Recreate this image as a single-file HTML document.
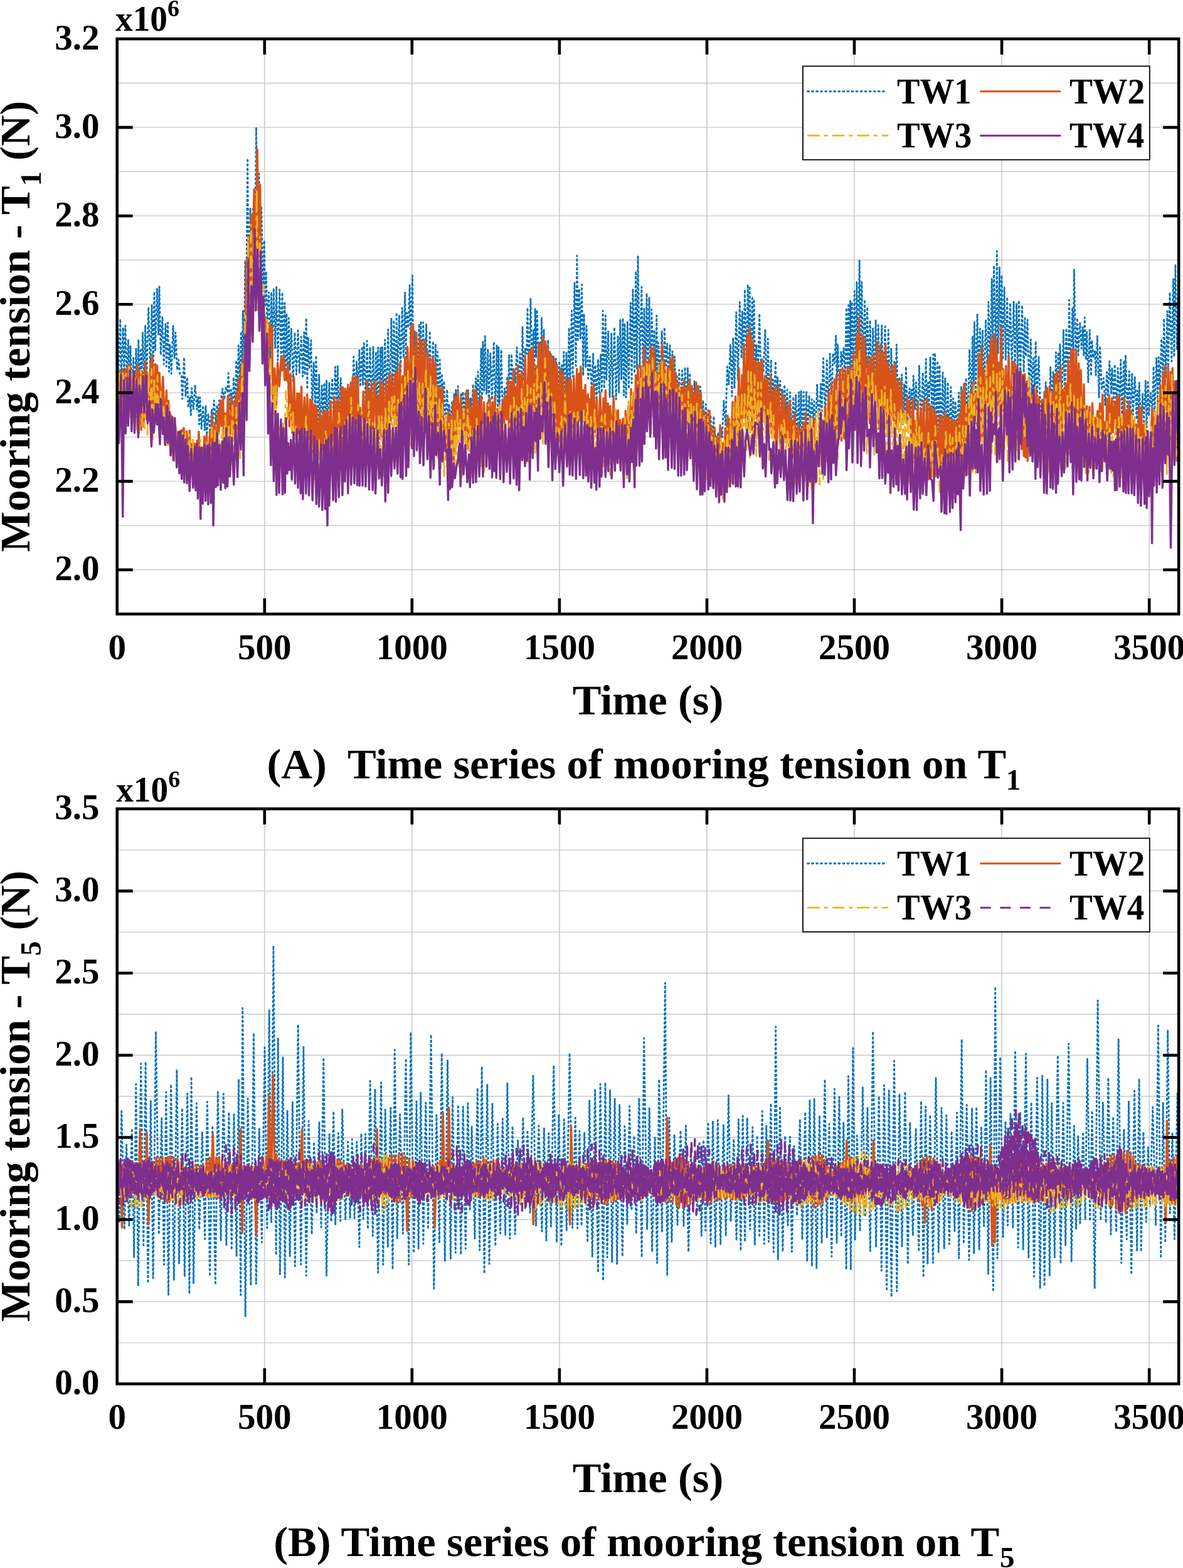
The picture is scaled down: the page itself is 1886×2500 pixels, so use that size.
<!DOCTYPE html>
<html><head><meta charset="utf-8"><title>Mooring tension time series</title>
<style>html,body{margin:0;padding:0;background:#fff;width:1886px;height:2500px;overflow:hidden}svg{display:block}text{font-family:'Liberation Serif',serif;font-weight:bold}</style>
</head><body>
<svg width="1886" height="2500" viewBox="0 0 1886 2500" style="font-family:'Liberation Serif',serif;font-weight:bold">
<rect width="1886" height="2500" fill="#fff"/>
<path d="M421.8,62.0V979.0M656.8,62.0V979.0M891.9,62.0V979.0M1127.0,62.0V979.0M1362.0,62.0V979.0M1597.1,62.0V979.0M1832.2,62.0V979.0" stroke="#d0d0d0" stroke-width="1.8" fill="none"/>
<path d="M186.7,908.5H1879.2M186.7,837.9H1879.2M186.7,767.4H1879.2M186.7,696.8H1879.2M186.7,626.3H1879.2M186.7,555.8H1879.2M186.7,485.2H1879.2M186.7,414.7H1879.2M186.7,344.2H1879.2M186.7,273.6H1879.2M186.7,203.1H1879.2M186.7,132.5H1879.2" stroke="#c8c8c8" stroke-width="1.3" fill="none"/>
<path d="M186.7,515.8L188.8,595.2 191.7,508.7 193.2,613.9 196.1,522.2 197.9,596.5 199.8,519.1 202.5,616.2 204.4,541.4 206.6,618.2 207.9,550.7 210.4,628.1 212.6,570.7 214.4,635.0 217.0,555.6 218.8,633.3 220.8,541.4 222.2,630.0 224.2,558.5 225.7,617.6 227.4,530.3 229.9,610.8 231.6,518.9 233.7,601.0 236.7,489.9 239.6,592.1 242.1,485.7 244.3,585.7 246.0,465.1 247.5,558.6 250.4,460.2 252.6,533.9 254.0,457.0 256.3,566.0 258.9,505.1 261.2,580.8 264.0,515.6 265.3,584.2 267.5,514.4 269.5,592.8 270.8,548.9 273.2,595.7 275.9,519.2 278.2,571.6 279.8,530.1 282.5,589.9 284.7,573.6 286.8,598.2 289.3,599.4 290.8,636.2 293.5,570.0 295.9,631.9 298.5,601.5 300.1,649.7 302.7,633.3 304.3,661.9 305.6,618.9 308.3,652.9 311.1,613.8 313.9,653.0 315.9,632.8 317.6,676.5 318.8,633.6 321.2,684.0 323.7,646.6 326.4,686.4 328.1,647.1 329.7,693.9 332.0,659.5 334.7,685.5 337.6,652.4 339.1,681.4 341.2,638.6 344.0,675.9 345.9,645.7 348.2,664.8 349.4,638.4 351.8,642.2 354.7,619.7 357.4,637.3 360.2,616.8 362.6,625.8 364.2,595.0 366.8,653.8 368.4,621.6 371.1,652.6 372.4,601.5 375.1,651.1 376.6,574.6 378.4,642.4 380.2,550.7 382.7,611.6 384.2,528.8 386.1,587.0 387.3,495.4 389.0,570.3 390.9,415.5 392.3,510.7 394.7,252.5 396.5,474.6 399.1,331.4 401.4,440.7 403.4,330.2 406.2,422.3 408.5,203.1 411.2,403.5 413.0,276.9 415.2,424.6 416.7,328.9 419.7,464.9 421.3,383.5 423.0,489.8 424.3,432.8 426.0,517.9 428.6,466.1 431.0,573.9 432.5,465.8 434.3,557.9 436.3,459.7 438.7,555.6 440.7,456.8 443.0,574.2 445.7,461.9 448.2,572.3 450.0,466.3 452.1,588.7 453.9,483.2 455.3,589.3 456.9,499.8 458.6,603.6 460.4,507.2 462.1,590.1 464.4,523.9 467.3,609.7 469.9,530.4 472.5,597.3 475.1,527.0 477.4,594.9 480.2,537.1 482.7,600.3 484.8,530.0 486.1,598.0 488.2,507.2 489.8,620.6 491.2,537.3 493.3,588.4 495.9,542.4 497.7,655.7 500.2,577.7 502.4,647.2 503.9,567.0 506.8,683.1 508.7,596.7 510.4,685.2 513.2,614.5 514.6,664.4 517.1,610.4 518.6,674.1 520.6,606.0 522.2,687.1 524.9,610.0 526.8,668.9 529.7,603.0 532.1,669.5 534.5,584.9 536.7,652.3 538.4,583.6 540.3,661.4 543.2,601.8 544.8,669.3 547.8,631.6 550.3,675.8 552.2,622.2 554.5,643.5 556.4,616.6 558.3,662.3 560.4,608.4 561.6,660.9 563.7,568.7 566.7,652.3 568.4,576.0 570.9,617.9 572.9,558.2 574.5,616.6 577.3,552.7 578.6,614.6 580.3,547.3 583.3,648.2 585.0,543.5 587.7,648.5 590.0,553.8 592.7,656.1 595.0,552.0 596.8,658.5 599.4,561.0 600.7,647.5 602.7,554.1 604.5,651.7 606.6,554.2 608.0,653.8 609.6,553.2 611.8,652.7 613.7,541.7 616.4,649.3 618.6,525.5 621.4,641.0 623.9,507.2 626.2,629.3 627.9,510.4 630.5,624.4 632.2,498.4 633.5,605.4 636.4,502.2 638.6,594.6 641.2,491.1 643.4,570.5 645.7,466.0 646.9,570.0 648.5,498.8 650.9,522.8 653.1,454.6 654.6,558.7 657.5,439.4 659.0,595.8 661.1,527.4 662.6,574.0 665.0,544.5 666.7,600.9 668.2,516.2 669.5,608.7 671.0,512.0 672.5,624.1 674.7,513.9 676.7,629.1 679.6,516.7 682.5,635.9 685.2,528.0 687.6,648.8 690.3,544.0 693.2,651.4 694.4,548.4 695.9,659.1 697.7,560.9 699.1,662.6 701.3,573.7 703.0,664.0 704.7,595.7 706.4,675.4 707.8,607.5 710.3,677.5 712.7,621.0 715.0,672.0 716.2,644.2 718.2,676.5 720.7,639.0 722.1,662.3 724.0,627.9 725.3,674.6 726.6,621.8 728.2,675.5 730.1,615.9 732.2,679.5 735.0,626.2 736.7,682.1 738.0,624.7 740.7,666.8 742.0,625.4 743.3,679.0 746.3,622.0 748.8,687.2 750.6,635.0 752.1,665.1 754.0,612.5 755.8,661.7 758.6,602.9 760.5,643.8 761.9,592.7 764.7,651.1 767.1,555.6 768.5,638.2 769.9,544.7 771.9,622.7 773.3,536.0 775.6,628.0 777.9,556.6 779.2,649.0 781.8,562.4 784.4,637.7 787.3,544.9 789.7,652.1 792.1,549.7 793.6,656.9 794.9,553.4 796.2,652.1 799.1,557.8 801.5,678.6 804.4,619.2 806.2,639.2 808.8,600.0 810.1,632.1 811.6,565.1 813.3,669.9 815.5,564.6 817.7,615.2 819.8,588.0 821.8,610.9 824.0,553.8 826.9,615.5 829.0,564.0 831.7,603.3 833.0,520.4 834.9,607.0 837.1,556.0 839.4,564.1 841.0,490.7 843.0,614.6 845.9,475.7 848.2,587.1 850.5,526.2 851.8,592.1 853.1,492.0 854.7,570.0 856.1,494.0 859.1,600.0 860.3,544.1 862.2,581.9 863.5,505.8 865.8,623.2 867.1,525.7 868.4,601.2 869.8,546.8 871.5,621.0 873.7,542.1 876.3,639.4 878.0,564.0 879.7,621.8 882.4,567.7 885.0,651.5 886.4,572.0 889.0,660.6 891.7,575.7 893.3,647.1 895.6,582.2 897.1,643.0 898.8,561.1 900.9,641.1 903.0,561.6 905.1,629.0 907.2,522.6 908.8,613.7 911.4,495.7 913.1,600.6 916.0,450.6 918.1,583.4 919.9,407.6 921.4,541.9 923.4,460.6 925.3,539.8 927.6,453.8 929.7,599.1 931.0,500.4 933.7,585.7 935.0,519.7 937.7,603.6 940.3,568.6 943.2,622.0 945.6,564.0 947.1,639.0 949.1,582.0 951.1,641.1 953.4,572.6 955.3,625.2 957.7,564.7 959.3,626.2 961.1,495.4 963.3,619.4 965.3,503.2 966.7,606.3 969.6,528.2 972.1,633.7 974.8,531.3 976.6,633.3 979.5,521.8 982.2,636.8 985.1,536.3 986.7,625.6 988.8,509.9 990.7,605.3 993.0,507.6 994.6,630.5 996.0,515.6 998.0,633.6 1000.4,512.7 1002.3,619.8 1005.3,482.9 1007.2,610.8 1008.9,460.4 1011.6,595.1 1013.6,432.2 1015.3,588.3 1017.0,407.6 1020.0,586.6 1022.9,457.4 1025.2,598.7 1027.0,491.3 1029.4,585.2 1031.0,467.6 1032.8,591.9 1035.0,474.0 1036.9,611.7 1038.7,493.3 1041.7,578.4 1043.2,525.9 1045.5,593.9 1046.8,503.2 1048.1,612.6 1049.7,546.7 1052.7,603.3 1055.2,527.6 1058.0,633.1 1059.3,522.1 1061.7,585.8 1063.7,548.1 1065.6,602.1 1068.1,550.5 1069.8,630.3 1072.0,560.2 1073.6,627.8 1075.5,568.5 1077.7,647.6 1079.2,597.3 1080.9,648.3 1082.8,590.0 1084.9,661.2 1087.5,591.0 1089.9,671.2 1092.1,585.5 1094.9,672.8 1096.4,586.4 1097.8,676.1 1099.7,595.0 1101.2,658.7 1103.4,619.8 1105.6,686.8 1107.0,607.6 1109.5,661.0 1111.7,640.3 1113.7,690.7 1116.5,616.5 1119.3,692.9 1120.9,638.2 1122.4,698.9 1125.2,644.5 1126.7,684.8 1129.3,654.1 1131.0,709.2 1132.9,662.0 1135.1,708.1 1138.0,663.7 1139.2,713.2 1140.6,692.5 1143.1,705.6 1145.1,689.3 1146.8,703.6 1149.7,682.4 1151.4,697.4 1153.9,638.2 1156.8,677.7 1159.4,584.4 1161.9,613.2 1164.4,549.0 1167.0,631.8 1168.7,538.8 1171.0,619.3 1173.7,498.0 1176.5,606.1 1179.3,481.6 1182.1,571.2 1183.5,495.7 1185.4,584.8 1187.4,461.7 1190.2,587.9 1192.2,453.5 1193.8,561.1 1195.1,456.3 1196.8,577.1 1199.4,472.4 1200.6,601.6 1202.1,477.0 1203.9,608.8 1206.0,549.3 1207.9,615.5 1210.7,500.0 1212.3,571.0 1214.5,581.6 1217.1,592.8 1219.9,525.1 1222.7,644.4 1224.2,540.5 1226.8,651.1 1229.2,573.7 1231.2,658.0 1232.4,605.4 1233.9,645.1 1236.5,576.1 1237.8,665.3 1239.6,601.4 1241.2,635.1 1243.8,607.3 1245.6,671.3 1247.0,620.3 1248.8,667.1 1250.6,613.6 1253.1,661.5 1254.9,621.5 1257.3,690.6 1259.5,625.4 1262.3,693.8 1264.8,632.7 1266.8,693.7 1268.8,629.0 1270.9,707.5 1273.7,625.1 1275.1,697.0 1277.1,623.2 1279.2,713.0 1281.2,625.0 1283.5,694.7 1285.6,624.7 1287.5,685.7 1290.0,630.5 1291.8,685.4 1294.1,636.8 1296.6,669.9 1298.0,639.7 1299.8,693.9 1302.7,612.6 1305.6,674.4 1308.6,612.1 1309.9,662.4 1312.6,571.3 1315.5,671.6 1318.3,574.6 1320.8,661.6 1323.2,563.9 1325.7,646.3 1327.9,563.4 1330.5,579.3 1332.6,535.0 1334.3,609.2 1335.6,549.5 1338.5,632.7 1341.0,560.5 1342.5,580.7 1345.2,554.5 1347.0,616.6 1349.3,490.9 1351.1,599.9 1352.7,486.8 1354.2,603.7 1355.6,478.9 1356.9,593.9 1358.2,481.3 1359.6,594.3 1362.3,464.1 1364.4,596.7 1365.9,449.4 1368.0,567.7 1370.2,414.7 1372.3,571.9 1373.8,449.9 1375.8,582.5 1378.6,477.8 1380.5,585.6 1382.6,489.5 1385.5,609.0 1387.1,510.5 1389.6,615.0 1391.7,523.5 1394.3,620.8 1396.1,510.0 1398.3,624.9 1400.2,518.5 1402.9,624.5 1405.8,518.6 1408.1,631.5 1411.1,520.5 1413.6,633.0 1416.3,526.2 1419.1,647.3 1420.8,555.7 1423.8,636.4 1425.7,574.4 1427.8,627.6 1429.3,549.5 1432.0,654.4 1433.8,601.2 1436.2,646.0 1437.8,597.1 1439.6,676.5 1441.5,612.0 1443.2,665.8 1444.4,584.7 1447.0,671.2 1449.9,619.1 1451.5,673.2 1453.0,621.5 1454.8,656.3 1456.2,599.2 1458.6,652.8 1460.4,609.7 1462.6,682.0 1465.5,582.7 1468.2,687.5 1471.1,594.0 1474.0,656.2 1476.2,572.4 1478.3,682.7 1479.6,610.1 1481.0,655.5 1483.1,569.1 1485.9,656.1 1487.8,565.0 1489.0,685.7 1490.6,562.9 1493.2,692.4 1494.7,575.5 1496.2,695.4 1498.0,582.3 1500.2,698.4 1503.0,594.0 1504.5,705.4 1506.8,602.4 1509.0,712.2 1511.0,609.4 1513.2,707.1 1515.9,617.3 1517.5,703.3 1519.6,635.0 1521.0,699.5 1523.1,639.7 1525.7,690.9 1528.7,625.9 1530.8,693.5 1532.5,615.9 1534.7,695.3 1536.6,611.9 1538.0,676.5 1540.2,602.6 1542.8,675.7 1545.6,556.8 1548.6,648.5 1550.4,536.0 1552.1,639.4 1553.5,513.2 1555.5,628.1 1558.1,500.1 1559.7,600.9 1562.5,523.9 1564.9,600.4 1566.5,526.1 1568.8,621.3 1571.5,509.6 1574.4,598.5 1575.9,481.3 1578.6,585.8 1581.2,444.3 1582.8,574.1 1584.5,423.4 1587.5,558.2 1589.3,400.6 1591.0,563.8 1593.5,426.0 1595.0,565.0 1597.0,438.9 1598.9,573.3 1601.1,458.2 1603.3,574.2 1605.7,473.6 1607.7,583.8 1610.5,483.2 1613.2,585.0 1616.1,480.2 1618.1,591.6 1620.6,484.2 1622.5,597.0 1624.3,478.8 1626.6,602.1 1629.5,486.6 1632.2,593.8 1633.9,507.5 1635.5,568.5 1638.1,509.8 1640.6,627.6 1643.3,541.1 1644.8,628.1 1647.5,569.0 1649.5,616.5 1651.2,544.1 1653.0,641.7 1656.0,568.8 1658.9,661.6 1660.3,652.1 1662.0,643.7 1664.5,643.0 1665.8,669.4 1667.1,609.7 1668.3,673.2 1671.1,629.5 1672.9,664.7 1674.7,584.5 1677.3,653.7 1679.1,592.1 1681.6,646.6 1683.5,561.8 1685.2,640.6 1687.1,561.7 1688.6,660.0 1689.9,548.4 1692.7,644.6 1695.5,525.7 1697.5,640.0 1699.9,523.5 1702.7,615.6 1704.6,478.5 1707.1,609.8 1709.6,490.1 1711.0,586.6 1712.4,428.8 1715.0,572.9 1717.5,507.1 1719.0,566.4 1721.7,515.2 1724.3,555.7 1726.1,521.4 1727.9,567.5 1729.3,506.2 1731.3,573.7 1732.7,529.7 1734.9,610.0 1737.2,526.1 1739.5,599.4 1740.8,542.4 1743.1,570.4 1745.7,559.2 1747.1,598.5 1749.4,535.4 1752.1,634.0 1753.6,551.7 1756.5,621.5 1759.4,602.9 1761.9,646.9 1764.7,593.3 1766.4,630.2 1768.8,575.9 1771.6,628.6 1772.9,586.6 1775.6,640.9 1777.2,581.1 1779.9,652.5 1782.2,587.0 1784.9,648.0 1786.8,573.8 1788.8,660.5 1791.6,574.8 1793.0,654.1 1794.5,565.9 1797.4,659.0 1800.3,591.9 1801.7,669.7 1804.7,595.2 1806.3,661.2 1809.2,600.3 1812.0,668.8 1813.2,622.6 1814.4,687.4 1816.2,609.8 1819.1,684.2 1821.7,627.7 1823.6,675.3 1826.4,606.7 1828.1,681.3 1830.0,609.4 1831.5,663.1 1834.4,626.5 1837.1,657.3 1839.1,584.6 1840.8,657.1 1843.7,570.3 1845.6,640.1 1847.2,569.6 1849.2,623.2 1851.7,540.5 1854.3,601.7 1855.6,508.0 1858.6,602.3 1861.0,496.0 1862.3,588.5 1865.0,466.0 1867.9,576.2 1870.6,444.3 1871.9,569.0 1873.9,421.7 1876.2,557.9 1879.0,425.5 1879.2,556.7" fill="none" stroke="#0072BD" stroke-width="2.9" stroke-linecap="round" stroke-dasharray="2 5.05" stroke-linejoin="round"/>
<path d="M186.7,600.3L188.9,667.4 191.0,591.8 192.9,664.2 195.6,588.9 197.7,660.2 200.4,588.1 202.3,637.7 204.2,583.4 205.7,657.3 207.0,583.1 209.2,661.6 211.1,596.3 212.5,669.3 214.7,594.5 217.2,664.1 219.5,580.3 220.7,652.5 222.6,590.9 225.0,685.1 226.9,592.5 228.9,680.1 231.5,576.3 233.0,667.9 234.5,595.8 237.1,670.5 240.0,576.6 241.5,664.3 242.8,565.1 245.4,675.8 247.6,580.5 249.3,667.0 250.6,582.7 252.8,656.0 254.2,594.1 257.1,658.6 259.9,600.8 262.4,683.6 265.4,622.8 267.1,703.2 268.5,638.9 270.9,708.6 272.5,661.5 275.0,722.6 276.3,669.9 278.1,697.8 280.5,693.7 283.4,719.2 284.8,693.9 286.8,734.7 289.7,685.8 291.0,706.4 293.0,682.1 295.5,714.9 297.6,687.7 300.3,739.1 302.3,686.5 304.0,757.7 305.3,707.6 307.4,747.1 310.3,707.0 313.2,752.6 314.4,702.5 315.6,766.6 316.9,688.3 319.7,769.0 321.5,713.1 323.2,771.4 325.8,696.0 327.6,772.6 329.5,694.0 331.9,759.7 334.7,687.3 336.2,725.2 337.8,660.2 339.4,748.7 342.3,674.8 344.5,735.1 347.2,655.2 348.7,693.0 351.4,638.1 353.2,679.5 355.5,632.1 357.1,712.9 359.2,659.0 361.8,687.0 363.3,630.7 366.2,712.8 369.0,631.4 371.4,694.0 374.0,640.8 375.7,710.0 377.1,625.0 378.8,713.4 380.3,603.3 382.1,705.2 384.7,583.8 386.2,655.7 387.5,571.0 390.2,614.5 393.0,414.7 395.0,448.6 396.6,377.6 399.4,480.3 400.7,342.3 402.5,456.5 405.1,301.8 407.6,415.4 410.2,238.3 412.3,409.0 414.7,294.8 416.5,511.6 419.3,484.5 421.9,504.3 424.8,524.5 427.3,606.8 429.9,515.3 431.4,549.9 433.6,520.8 435.0,653.2 437.8,587.2 440.4,647.1 442.6,577.9 445.3,616.0 448.1,571.5 449.9,590.8 452.3,565.0 453.8,606.3 455.1,590.6 457.6,607.1 459.2,580.1 461.2,679.7 463.2,595.9 466.1,690.6 468.7,601.5 470.9,693.5 473.6,627.2 475.2,691.1 476.6,627.5 478.3,701.8 480.5,616.4 482.3,712.0 485.3,633.7 487.5,707.6 489.7,628.6 492.3,713.0 494.4,637.0 495.9,716.7 497.5,638.3 499.5,722.0 501.1,645.4 502.7,722.8 504.6,647.8 507.2,731.6 510.0,656.9 511.6,736.1 513.2,665.9 514.5,731.4 515.7,653.8 517.5,731.2 519.1,656.1 521.2,735.0 522.6,654.6 525.0,721.7 527.2,640.1 530.0,734.2 532.7,632.1 534.1,732.1 536.3,639.6 538.1,719.8 539.4,636.3 541.6,723.1 544.6,616.1 546.0,720.4 547.2,618.3 548.8,717.3 550.8,619.6 552.4,709.4 554.9,613.2 556.6,705.0 559.3,610.0 560.7,686.3 562.2,601.0 565.2,679.5 566.5,600.0 569.1,710.7 570.4,601.6 571.9,670.1 574.2,650.2 576.9,708.8 579.2,623.9 582.2,684.2 585.2,607.3 586.7,675.8 588.7,622.0 590.7,705.9 592.3,611.7 594.7,689.4 597.4,605.7 600.0,684.5 602.6,630.8 604.2,699.7 606.5,605.5 608.0,697.1 610.6,611.8 613.4,712.6 615.5,607.3 617.7,699.9 620.2,596.1 623.0,671.5 624.4,597.1 626.9,666.4 629.7,596.6 631.3,677.3 633.0,590.5 635.1,669.6 637.4,578.9 639.4,685.3 641.6,599.7 643.5,668.0 645.5,570.4 647.2,668.0 649.6,552.9 652.5,641.0 655.5,520.5 657.4,647.4 658.6,516.7 661.0,658.7 663.9,530.3 666.8,665.2 669.3,539.4 671.1,677.5 672.5,545.5 674.5,682.5 676.9,542.0 679.4,689.9 681.8,560.4 684.4,698.0 685.8,571.3 687.9,691.3 689.9,568.8 692.0,692.0 694.1,577.6 696.4,704.9 697.8,615.2 699.0,712.2 701.0,620.5 703.2,708.7 705.2,617.0 707.3,717.1 709.2,667.8 711.9,733.4 714.6,654.8 716.0,738.6 718.4,664.0 720.5,732.6 721.8,641.6 723.2,737.0 725.8,632.4 728.3,706.3 729.8,624.2 732.0,679.2 734.9,633.5 737.0,726.2 739.3,661.3 741.7,697.8 743.9,622.6 746.6,715.9 748.3,636.5 749.9,701.9 751.3,650.5 753.3,717.0 755.1,620.7 757.2,725.0 758.7,621.9 760.8,731.2 762.8,639.3 764.6,723.2 767.2,632.0 769.4,735.7 771.6,641.3 774.5,722.3 777.3,642.2 779.7,722.2 780.9,634.4 783.2,724.2 785.0,641.1 786.6,714.5 788.9,630.9 790.4,712.2 793.0,652.1 795.6,710.5 797.0,655.9 798.5,690.7 801.4,637.8 802.6,710.2 805.2,630.7 807.8,668.7 810.3,604.6 811.5,701.4 814.4,608.2 816.0,675.5 818.8,588.3 820.9,706.7 822.6,616.8 824.2,686.2 825.4,582.7 827.0,688.5 828.4,597.3 829.6,683.0 832.0,593.4 835.0,690.8 837.1,566.6 839.8,684.9 842.7,562.2 844.1,677.5 846.0,557.5 848.0,663.4 849.6,553.7 852.1,675.3 854.3,583.6 855.8,676.3 858.7,548.2 860.1,663.8 861.4,548.2 864.0,648.6 866.0,537.1 868.3,658.1 869.6,544.1 870.9,662.0 872.7,551.5 874.4,677.2 876.6,561.4 878.4,684.5 880.0,568.0 882.9,689.3 884.3,572.7 886.4,703.6 888.0,581.4 890.7,704.1 893.0,588.5 895.3,708.2 897.3,593.1 899.3,707.9 902.3,601.7 904.3,708.1 906.7,605.8 908.0,710.6 910.2,605.2 912.7,704.1 914.8,599.3 917.3,696.0 919.7,588.1 921.1,692.8 923.1,595.8 924.4,670.8 925.8,584.5 928.2,672.3 929.8,622.3 931.1,668.9 933.1,613.7 935.6,704.3 937.3,628.7 938.8,701.6 940.4,636.3 941.7,703.1 942.9,616.7 945.0,712.0 946.6,612.3 948.5,689.1 951.4,636.5 954.0,712.1 956.7,626.1 959.6,707.2 962.0,635.2 964.0,686.8 965.3,622.3 967.8,714.6 969.2,643.3 971.0,721.6 972.7,647.2 975.5,703.1 978.3,632.0 980.0,728.7 981.8,655.0 983.9,733.5 985.2,654.0 986.4,726.5 988.6,669.6 990.7,706.0 993.1,667.4 995.9,720.9 997.3,655.0 1000.1,733.7 1001.7,647.7 1004.6,732.5 1006.0,620.5 1008.0,713.3 1010.5,626.3 1012.0,721.9 1013.5,598.3 1015.1,719.6 1016.9,582.7 1019.7,708.1 1021.4,584.0 1023.8,697.6 1026.5,551.3 1027.7,647.5 1029.4,575.8 1032.3,661.7 1034.5,571.6 1036.0,651.6 1038.1,553.9 1040.0,603.4 1042.7,553.8 1045.4,655.2 1047.1,595.0 1050.1,653.7 1051.4,579.0 1054.2,626.3 1055.6,548.1 1057.8,613.1 1059.8,578.6 1062.4,662.4 1064.5,587.8 1066.2,657.0 1068.7,570.7 1070.6,647.2 1072.5,568.6 1075.2,654.9 1077.1,593.8 1079.2,664.0 1081.9,609.6 1084.6,662.7 1087.0,617.7 1089.5,690.0 1090.8,607.1 1093.0,684.7 1095.3,617.1 1096.7,676.2 1099.5,605.0 1102.0,693.5 1103.3,615.6 1104.8,709.4 1106.2,628.2 1107.6,701.1 1109.9,609.7 1111.3,718.7 1113.2,615.5 1114.9,724.8 1117.3,626.4 1119.8,717.6 1122.1,655.3 1124.4,744.3 1126.6,658.4 1129.2,753.8 1131.3,655.1 1132.9,756.7 1134.3,679.2 1136.5,753.1 1139.2,681.6 1141.7,765.4 1144.1,698.1 1146.7,747.3 1148.1,677.7 1150.8,786.0 1152.1,706.3 1154.3,755.3 1156.2,682.8 1157.7,773.4 1159.9,662.8 1161.3,751.1 1162.6,668.0 1165.1,746.5 1167.9,640.6 1169.9,716.0 1172.5,632.2 1175.4,724.7 1178.0,587.5 1179.9,699.7 1182.8,598.1 1184.5,666.8 1186.1,550.2 1188.5,671.7 1191.2,532.6 1192.9,681.9 1194.6,520.5 1195.9,655.2 1197.2,535.7 1199.0,685.9 1200.4,544.3 1201.6,681.1 1204.2,575.4 1207.0,669.6 1208.5,577.5 1210.3,678.3 1211.5,578.2 1213.5,669.0 1214.9,572.7 1217.1,669.8 1219.5,598.9 1222.0,698.2 1223.4,605.3 1226.0,696.5 1228.8,597.5 1230.4,691.1 1233.4,622.1 1235.2,700.4 1236.9,614.9 1238.3,717.4 1241.3,618.0 1244.3,717.7 1246.9,627.3 1248.6,723.0 1250.1,632.8 1252.8,704.5 1255.5,646.8 1257.9,711.4 1259.2,638.9 1260.5,717.6 1262.7,670.2 1264.0,729.4 1266.7,659.0 1269.6,725.1 1272.6,676.4 1275.3,752.4 1276.6,684.6 1278.0,732.9 1280.9,673.6 1283.1,757.6 1284.5,658.0 1285.7,757.7 1287.1,687.9 1289.9,747.1 1291.6,664.8 1294.2,729.9 1297.1,667.5 1298.9,729.4 1301.8,697.2 1304.6,723.9 1306.0,673.0 1307.4,740.8 1310.3,669.2 1313.0,732.8 1315.6,648.0 1318.0,734.7 1321.0,624.8 1322.9,721.0 1325.6,611.1 1328.2,719.0 1330.2,604.8 1331.9,712.9 1333.3,598.4 1336.2,709.6 1338.9,590.2 1341.4,702.4 1343.1,586.7 1345.8,699.2 1347.3,591.0 1349.7,695.2 1351.2,585.1 1353.2,684.7 1355.5,585.7 1358.0,686.5 1360.8,560.0 1363.7,685.5 1366.3,533.9 1367.6,683.1 1369.5,506.4 1372.0,659.6 1374.8,534.0 1376.0,669.0 1377.9,538.5 1380.8,662.0 1383.7,568.1 1386.5,675.0 1387.9,571.5 1389.7,652.2 1392.6,565.2 1395.4,664.4 1398.4,545.3 1400.8,683.5 1403.3,550.0 1405.0,681.0 1407.5,562.0 1409.1,685.4 1411.8,548.6 1414.1,675.0 1415.8,577.4 1417.3,671.2 1418.7,590.7 1420.2,677.5 1423.1,582.2 1424.9,670.5 1427.1,580.8 1428.6,684.4 1431.4,605.0 1434.4,671.9 1436.5,607.6 1439.4,660.5 1442.4,666.5 1444.8,674.0 1446.3,632.2 1448.6,660.5 1450.2,639.5 1453.0,715.2 1455.8,635.1 1457.3,737.1 1459.2,671.1 1461.6,718.3 1463.2,639.6 1465.9,732.2 1468.0,651.1 1470.4,745.5 1472.4,638.9 1475.1,758.7 1477.7,635.7 1480.4,764.1 1482.2,645.2 1484.1,761.5 1485.7,650.9 1488.5,742.3 1489.9,652.8 1491.8,759.2 1493.0,662.9 1495.4,758.0 1498.3,661.4 1500.5,762.4 1501.8,665.2 1503.6,753.6 1506.0,656.6 1507.5,761.8 1509.6,665.4 1511.4,763.1 1512.7,666.0 1515.3,752.5 1517.0,668.2 1518.6,758.4 1520.9,669.3 1522.9,739.1 1524.7,670.2 1526.1,741.3 1529.1,660.2 1531.4,748.4 1533.4,621.7 1535.6,736.4 1537.6,611.3 1540.2,711.2 1543.0,644.8 1544.7,731.7 1547.6,623.5 1549.4,670.5 1551.7,607.9 1554.6,674.9 1557.1,625.1 1558.3,696.0 1560.7,563.6 1563.4,701.7 1564.7,552.4 1566.3,695.8 1568.2,590.1 1570.1,667.0 1573.1,578.8 1574.4,642.0 1575.9,567.3 1578.3,674.7 1579.7,538.7 1582.0,671.2 1584.3,533.2 1586.5,641.5 1588.5,540.1 1590.5,646.1 1592.4,577.9 1594.3,643.0 1596.1,520.5 1597.9,654.7 1599.4,588.6 1601.6,680.0 1603.9,583.4 1606.1,690.3 1608.2,567.5 1610.8,689.3 1613.7,578.1 1615.0,688.9 1616.9,576.1 1619.0,710.3 1620.3,582.9 1622.1,709.5 1624.1,594.1 1625.4,708.3 1627.4,591.2 1628.7,716.1 1630.7,597.4 1632.2,727.0 1633.6,596.5 1634.9,729.3 1637.0,608.5 1638.3,735.1 1640.2,604.1 1641.5,720.0 1643.9,628.5 1646.3,718.6 1647.8,636.1 1649.6,720.4 1652.1,620.6 1653.6,735.9 1656.2,633.1 1658.6,745.8 1661.5,637.2 1663.8,757.7 1665.1,624.6 1667.0,756.0 1669.4,618.2 1671.5,729.4 1673.4,615.7 1675.0,740.9 1677.4,626.0 1678.9,731.2 1681.5,597.8 1683.2,695.2 1685.4,592.2 1688.3,718.2 1690.6,584.9 1693.3,688.9 1694.7,621.2 1696.8,666.7 1699.2,611.8 1700.7,688.8 1703.1,574.6 1705.5,698.7 1707.6,558.0 1710.2,686.5 1711.4,555.5 1714.3,709.9 1715.6,558.5 1718.2,713.1 1719.7,579.5 1720.9,720.1 1723.2,590.4 1725.4,726.8 1727.9,612.7 1730.7,730.6 1732.7,647.4 1734.8,710.4 1737.1,648.8 1738.9,730.4 1741.5,642.8 1744.1,709.5 1745.6,666.0 1748.1,710.4 1749.6,655.2 1751.3,683.2 1753.6,643.3 1755.6,699.4 1757.8,629.3 1759.4,720.1 1762.0,672.7 1763.4,705.3 1764.6,635.8 1766.2,695.8 1768.3,630.3 1771.0,691.7 1772.8,634.8 1774.2,689.2 1777.2,640.2 1779.6,692.1 1781.3,631.5 1782.9,735.0 1784.4,631.4 1785.8,729.1 1788.3,667.3 1789.7,734.8 1792.1,633.9 1794.0,706.7 1796.4,653.8 1798.2,737.7 1799.6,639.9 1800.8,702.3 1803.5,654.6 1806.2,686.3 1807.7,671.4 1809.4,699.3 1811.4,676.6 1814.3,736.7 1816.1,648.1 1818.3,694.5 1819.5,649.7 1820.9,725.0 1823.4,677.0 1825.5,749.6 1826.8,685.8 1829.3,740.5 1830.9,700.3 1833.7,743.2 1836.7,649.2 1839.6,726.1 1841.1,657.3 1843.4,718.9 1846.2,637.1 1848.5,734.9 1849.8,614.5 1851.5,741.4 1853.9,596.3 1855.8,730.6 1857.3,584.0 1859.5,738.6 1862.2,584.0 1864.7,734.5 1866.3,593.0 1867.9,709.9 1869.3,586.9 1871.0,700.5 1873.2,608.1 1876.1,734.6 1877.8,613.0 1879.2,712.3" fill="none" stroke="#D95319" stroke-width="3.4" stroke-linejoin="round"/>
<path d="M186.7,664.5L188.8,708.2 190.6,594.5 192.5,670.1 195.7,590.8 198.1,689.7 200.8,596.3 203.7,675.3 205.7,584.6 207.7,664.7 210.7,591.4 212.9,674.0 214.7,599.9 217.8,684.4 219.9,605.8 221.8,691.2 224.5,591.4 226.6,681.8 228.4,597.7 230.5,683.2 233.2,607.9 235.3,693.3 237.1,592.9 239.6,677.9 241.7,588.5 243.6,700.5 246.1,605.6 248.3,675.6 251.0,598.7 253.9,695.8 256.4,624.3 259.5,682.8 261.2,646.7 264.1,715.0 265.9,642.7 267.7,710.1 270.4,646.3 273.5,726.3 275.6,664.2 278.1,734.8 281.1,679.5 283.0,733.1 285.4,693.4 288.0,729.4 291.1,690.2 293.7,746.9 295.6,689.0 298.6,752.4 301.7,692.4 304.6,756.2 307.5,697.8 309.9,773.0 312.7,722.7 316.1,783.5 319.5,700.2 321.4,771.4 324.2,713.6 327.3,768.5 329.0,703.1 331.7,757.8 333.5,707.2 335.4,749.4 337.6,681.3 340.2,744.0 342.8,685.6 345.3,752.0 348.6,690.3 351.2,733.1 354.1,684.0 356.3,729.4 359.2,659.9 362.2,739.3 365.0,675.2 367.9,749.8 370.6,647.1 373.7,748.5 376.8,650.0 378.6,741.0 381.0,638.4 382.8,731.0 386.1,580.7 388.5,712.8 390.5,498.7 393.6,513.8 395.4,378.4 397.2,567.7 400.1,358.3 402.6,505.7 404.7,373.8 407.3,498.7 409.3,301.8 411.4,494.1 414.1,377.2 417.3,542.7 420.2,453.6 422.9,608.9 425.9,508.1 428.2,665.9 431.5,572.0 434.2,699.4 436.3,617.0 438.0,665.0 439.8,613.0 441.7,695.7 444.6,680.5 447.7,695.8 451.0,675.1 453.7,691.1 455.9,623.3 459.0,672.5 462.3,644.5 465.1,686.8 466.9,657.3 469.2,748.8 471.3,680.4 474.5,754.9 477.6,694.2 479.3,763.8 482.0,685.3 485.4,718.2 487.9,660.8 491.1,758.0 494.2,689.7 496.7,714.4 499.1,715.2 500.9,764.1 503.2,721.1 505.1,771.2 508.2,697.9 510.9,779.0 514.2,719.5 516.6,729.2 519.4,685.6 522.5,718.2 524.1,705.8 526.3,732.1 528.7,714.2 532.0,705.5 535.1,697.5 536.9,728.4 540.2,658.5 542.9,699.0 544.7,693.7 547.5,695.7 550.7,671.1 552.7,750.3 554.9,664.2 557.0,731.3 559.9,634.0 562.8,744.7 565.8,674.1 569.0,706.3 570.9,645.1 573.8,738.8 576.6,656.7 578.7,752.0 582.0,674.2 584.5,740.7 587.8,639.9 591.1,745.0 594.3,674.7 596.8,760.4 598.9,683.1 601.5,751.3 603.9,659.8 606.4,756.1 608.4,663.0 611.5,758.6 614.5,649.4 617.6,747.6 620.2,640.1 621.9,730.6 625.1,629.5 626.8,737.6 628.7,631.5 632.0,717.3 634.6,633.1 637.4,726.0 640.5,610.0 643.3,709.6 645.7,601.3 648.3,682.1 650.6,591.7 653.2,714.1 654.8,604.1 657.3,709.1 659.0,564.6 660.8,704.0 663.9,604.3 666.7,662.9 668.6,607.9 671.6,706.7 674.0,611.6 675.9,681.3 679.1,586.3 680.9,725.7 682.6,616.4 684.6,706.7 686.4,596.4 688.0,723.7 690.8,612.1 692.6,742.3 695.2,617.2 697.3,729.3 700.6,634.6 702.6,746.2 705.1,644.3 708.0,761.1 710.2,657.9 713.3,766.9 715.5,674.3 717.7,773.8 720.1,665.5 722.5,770.4 725.2,670.7 727.2,749.3 729.4,653.5 731.4,748.0 733.5,666.0 736.5,760.3 739.2,651.4 742.5,723.4 745.8,653.0 747.8,719.0 749.8,678.9 753.0,764.2 754.9,682.2 757.8,745.1 759.8,667.6 761.6,722.9 764.0,695.2 766.9,744.0 770.0,677.8 772.0,751.5 773.7,667.2 776.8,727.4 779.2,644.9 781.9,731.2 784.5,683.2 787.5,747.0 790.9,654.6 793.6,713.1 795.9,646.0 797.8,705.5 799.6,662.4 802.4,687.8 804.5,674.6 806.6,718.9 809.0,700.2 811.5,714.5 813.9,643.4 817.2,708.0 819.3,633.7 822.0,726.5 823.7,645.3 825.4,662.4 827.3,650.2 829.4,738.2 831.9,618.0 834.5,698.9 836.4,635.0 839.1,742.4 840.8,614.0 843.1,737.5 846.1,618.8 848.6,703.3 851.4,612.1 853.4,723.3 856.3,586.1 859.6,696.4 862.4,608.6 865.8,711.0 868.9,571.0 871.9,683.7 874.3,610.7 877.0,673.3 879.0,624.1 882.2,717.4 883.8,638.9 886.8,702.3 890.1,683.0 892.3,692.4 895.4,663.7 897.7,739.7 900.9,629.8 903.6,706.4 905.3,669.6 907.6,738.4 909.2,656.4 912.2,698.1 915.3,655.7 918.7,694.9 921.3,655.7 923.6,733.3 926.1,665.0 928.5,724.4 930.7,654.7 933.9,715.6 936.2,639.3 939.4,715.0 942.0,664.6 945.2,746.0 948.0,649.4 950.4,724.6 953.3,685.2 956.2,708.5 959.4,662.7 961.8,743.4 964.4,660.6 967.3,730.7 969.9,683.4 972.6,757.3 974.6,670.6 978.0,731.5 980.7,650.9 983.5,716.0 986.4,690.5 989.4,728.0 991.2,679.2 993.5,764.0 996.1,664.5 999.5,764.5 1002.1,637.9 1003.7,764.1 1007.0,631.1 1009.6,748.2 1011.3,621.3 1013.5,736.9 1016.9,608.6 1019.1,726.3 1021.7,601.3 1023.9,717.3 1026.6,585.6 1029.0,675.8 1031.2,575.6 1033.0,657.0 1035.1,578.6 1037.8,695.4 1040.3,571.1 1042.7,682.9 1045.4,593.7 1047.6,670.7 1050.2,582.1 1052.8,684.4 1055.7,574.7 1059.0,700.5 1061.0,585.6 1064.4,671.6 1067.8,589.7 1070.8,698.6 1073.7,625.7 1075.4,726.1 1078.4,620.7 1081.1,696.7 1083.2,616.8 1085.2,713.6 1087.4,629.9 1089.6,706.8 1091.9,640.3 1094.5,737.0 1097.5,624.1 1099.8,730.3 1101.5,644.7 1104.3,746.3 1105.9,648.3 1108.4,733.1 1111.1,639.1 1113.8,745.5 1116.9,651.4 1120.2,759.5 1122.4,663.6 1125.3,764.6 1128.5,668.4 1131.6,761.3 1134.6,691.6 1137.2,777.9 1140.2,698.5 1142.2,751.3 1144.7,716.7 1147.3,759.3 1149.2,696.7 1152.3,795.3 1154.7,701.6 1157.0,770.4 1159.7,682.9 1162.4,776.3 1164.6,670.4 1167.4,770.0 1169.6,649.4 1172.1,768.8 1173.8,639.8 1175.5,731.9 1177.2,629.6 1180.0,753.7 1182.5,625.2 1184.7,726.9 1187.0,627.5 1190.2,717.6 1193.1,592.1 1195.2,731.7 1197.4,589.4 1200.8,721.8 1203.1,597.7 1205.6,727.3 1208.5,609.7 1210.5,727.1 1213.3,609.7 1215.3,716.7 1218.4,647.1 1220.8,699.4 1224.1,653.5 1225.9,733.2 1228.4,638.0 1230.8,699.3 1233.0,662.2 1234.8,717.7 1236.5,727.2 1239.6,743.5 1241.5,714.7 1243.2,743.4 1245.8,677.4 1247.8,703.7 1250.0,666.7 1253.1,715.3 1255.8,683.6 1257.7,733.2 1259.5,699.5 1262.2,744.7 1265.3,678.1 1267.7,771.3 1270.5,699.3 1273.6,776.6 1275.5,694.5 1278.2,759.4 1281.6,687.6 1284.4,768.4 1287.3,674.7 1289.1,774.7 1291.7,667.5 1293.6,780.8 1296.5,678.5 1298.9,773.9 1300.6,662.0 1302.6,767.1 1304.9,654.4 1306.8,772.5 1309.0,655.4 1312.4,764.6 1314.4,662.0 1317.0,735.6 1318.6,651.8 1321.9,747.1 1325.1,628.9 1326.8,725.4 1328.7,674.3 1331.4,702.4 1333.2,622.6 1335.4,732.4 1338.4,635.7 1341.3,695.6 1344.0,608.1 1345.7,687.4 1347.7,648.2 1349.5,686.6 1352.1,595.7 1355.1,658.1 1357.5,588.7 1360.6,665.7 1362.3,576.3 1364.2,669.2 1365.9,571.2 1368.2,634.0 1370.2,559.8 1373.4,680.3 1375.3,626.0 1378.4,634.5 1380.1,612.1 1382.1,727.0 1384.3,595.3 1387.6,666.3 1390.9,590.8 1393.7,725.9 1396.0,611.8 1399.1,721.8 1401.7,636.0 1403.5,687.8 1405.7,620.4 1407.6,716.1 1410.6,616.5 1412.6,740.1 1414.8,633.3 1417.6,743.4 1420.2,619.2 1423.2,744.0 1426.1,644.2 1429.4,720.1 1432.0,658.0 1434.3,732.3 1436.0,650.9 1437.8,744.2 1439.8,660.3 1441.6,756.9 1443.2,657.8 1445.5,752.1 1447.3,660.7 1449.5,773.4 1451.7,667.9 1454.0,763.5 1456.6,687.5 1458.8,749.5 1460.8,669.0 1463.6,779.9 1465.4,676.4 1467.6,780.9 1469.5,686.7 1471.1,738.7 1474.2,711.5 1477.1,756.8 1480.3,690.5 1483.1,744.2 1486.1,699.3 1488.5,791.6 1491.0,678.9 1493.5,745.2 1495.2,711.7 1498.3,789.3 1501.5,725.8 1504.8,778.5 1508.0,685.3 1511.3,777.9 1514.6,692.8 1516.9,772.7 1518.7,697.9 1521.3,794.6 1524.3,679.3 1527.6,760.2 1529.7,678.5 1531.9,769.7 1535.2,679.0 1538.3,760.8 1540.2,648.3 1543.5,757.4 1545.2,635.4 1546.8,758.5 1548.7,624.9 1550.7,753.5 1552.8,615.8 1555.5,757.5 1558.7,604.7 1561.1,751.4 1563.1,601.6 1565.5,733.6 1567.4,614.7 1570.5,734.7 1572.7,581.3 1575.4,742.4 1578.6,601.1 1581.1,722.6 1583.6,581.7 1586.3,724.2 1589.5,593.1 1591.2,735.0 1594.1,593.1 1596.3,720.2 1598.1,590.7 1601.4,720.7 1604.6,617.8 1606.5,735.1 1608.9,621.1 1612.3,717.5 1615.2,594.0 1617.5,680.0 1619.4,605.5 1622.8,732.0 1625.5,662.1 1627.8,669.9 1629.9,620.8 1633.1,697.7 1635.9,672.3 1637.5,654.8 1640.3,599.9 1643.3,652.9 1645.8,636.5 1647.6,684.7 1649.9,650.0 1652.3,691.9 1654.9,656.3 1656.7,703.9 1658.9,695.0 1661.4,718.1 1663.4,670.0 1665.1,771.4 1666.8,633.6 1669.3,769.2 1671.0,655.1 1672.8,752.4 1674.9,622.8 1677.2,720.0 1679.6,640.6 1682.0,750.4 1683.7,613.8 1686.9,708.7 1690.0,610.5 1692.4,759.0 1695.6,643.0 1698.7,747.1 1701.9,631.3 1704.0,724.0 1706.5,609.3 1709.8,748.5 1712.4,630.9 1715.5,751.5 1718.0,636.4 1721.2,741.6 1723.8,633.0 1726.8,744.3 1728.6,646.7 1731.2,759.1 1732.9,654.9 1735.6,753.8 1738.3,657.3 1741.6,745.5 1743.5,658.7 1746.7,751.2 1749.9,666.5 1752.6,735.6 1754.3,658.7 1757.6,750.9 1760.2,687.0 1762.2,731.7 1764.8,673.0 1767.3,741.2 1769.1,659.5 1771.5,758.1 1773.2,694.9 1775.0,764.3 1778.0,669.3 1780.4,717.3 1783.7,661.5 1786.7,763.0 1788.6,661.9 1791.3,762.1 1794.4,681.5 1796.4,762.3 1798.9,674.2 1802.2,729.1 1804.5,661.0 1806.8,768.1 1809.0,664.9 1812.0,748.8 1814.5,683.4 1816.8,771.3 1820.0,697.4 1823.3,749.3 1826.2,669.2 1828.1,761.9 1830.8,702.2 1832.9,752.9 1835.8,677.3 1838.5,771.8 1841.4,653.2 1844.1,759.2 1847.0,633.0 1850.3,753.4 1852.8,621.5 1856.1,695.7 1858.3,616.4 1860.3,758.2 1863.7,624.1 1866.5,738.4 1868.2,596.0 1871.4,707.4 1874.3,638.0 1875.9,726.3 1878.4,590.9 1879.2,731.7" fill="none" stroke="#EDB120" stroke-width="2.9" stroke-linecap="round" stroke-dasharray="17.3 9.3 3.7 9.3" stroke-linejoin="round"/>
<path d="M186.7,598.4L189.8,706.1 192.9,597.4 195.8,823.8 197.7,606.1 200.3,691.1 202.6,603.8 204.3,678.9 207.2,590.7 209.8,687.6 213.1,592.3 214.4,690.2 217.7,606.3 220.4,697.2 222.1,614.6 225.0,658.4 228.0,599.7 230.0,656.5 233.0,598.7 235.3,675.0 238.3,639.2 241.5,712.0 243.1,653.7 245.3,689.6 248.5,643.9 250.3,677.0 251.9,644.6 255.0,708.2 256.3,636.0 259.4,692.1 261.0,665.4 263.2,709.4 266.2,646.8 267.5,706.1 270.4,656.9 271.9,726.2 274.5,665.2 276.5,734.0 278.7,666.4 281.7,745.3 284.2,688.2 285.9,754.7 287.6,687.4 289.7,763.8 291.8,694.1 293.7,769.2 296.0,700.8 298.0,770.5 299.5,711.3 302.3,782.9 304.9,715.7 307.9,777.7 310.5,712.3 312.0,781.8 313.9,707.5 315.4,795.0 318.2,713.3 319.7,827.3 321.8,714.1 323.3,803.1 326.0,709.6 327.7,798.5 330.1,710.3 331.9,804.3 333.9,708.5 336.2,802.0 338.6,705.2 340.0,837.9 342.3,705.9 344.2,776.5 346.0,690.8 347.4,774.0 349.8,709.2 351.9,781.0 354.3,703.6 356.0,769.6 357.7,698.7 359.1,778.4 360.9,683.4 362.6,775.7 365.0,697.0 366.4,759.8 369.6,697.8 372.8,772.8 375.5,677.3 378.6,760.6 381.5,642.8 383.8,716.5 386.5,626.6 388.3,758.0 391.0,533.8 393.2,669.9 395.8,414.7 397.6,591.6 400.8,455.9 402.9,544.9 406.0,365.3 408.0,494.6 410.5,397.8 413.5,527.4 415.6,400.6 418.4,579.8 420.0,472.8 422.8,614.2 425.6,531.7 427.4,691.4 429.2,599.0 431.9,741.6 434.1,643.0 436.4,767.3 439.2,655.2 440.8,789.1 443.0,659.6 445.0,785.9 447.9,668.8 450.5,788.3 451.8,682.6 454.3,785.9 456.1,666.6 458.0,755.1 459.4,706.4 461.5,749.3 463.7,701.2 465.2,764.7 468.1,689.6 470.5,771.0 473.2,684.0 475.0,777.7 477.8,686.9 479.2,786.6 481.1,683.6 482.9,795.9 485.4,683.7 487.8,786.8 489.9,688.4 492.6,789.9 495.3,686.8 498.2,797.7 501.3,696.4 504.4,803.6 505.8,702.4 508.7,807.7 511.8,708.4 513.8,813.0 516.5,709.1 518.4,811.8 519.8,701.6 522.0,837.9 523.3,698.2 524.9,806.2 528.0,693.1 531.1,797.3 533.9,682.0 535.4,800.1 537.2,683.1 540.2,792.8 542.8,680.9 545.9,789.5 548.6,678.6 549.9,767.7 552.3,670.0 554.8,786.5 557.6,661.1 559.8,772.8 562.3,665.8 564.9,770.4 566.7,669.7 569.6,773.8 571.3,662.2 573.3,774.5 574.7,664.6 578.0,774.2 581.1,667.1 582.9,775.6 585.9,676.0 588.5,780.6 591.0,680.8 594.2,781.4 596.2,682.9 598.6,786.9 601.9,686.4 604.3,763.0 606.1,716.4 608.8,774.2 612.0,686.3 614.3,799.6 616.9,686.7 618.8,785.8 620.9,676.0 623.7,759.0 626.5,682.7 628.9,746.9 631.2,681.6 633.8,755.2 636.4,644.5 638.6,761.0 639.9,641.8 641.8,763.7 644.7,629.9 647.5,758.7 649.3,615.2 651.0,744.9 654.2,606.6 656.8,714.8 658.6,611.5 660.0,727.2 662.0,586.3 664.5,717.9 667.5,656.1 669.5,738.4 672.0,665.3 675.1,741.9 678.3,619.1 681.3,732.3 683.8,663.3 686.3,761.8 689.1,674.8 691.2,747.9 694.0,645.9 695.3,725.6 698.5,690.0 701.2,772.8 702.6,671.3 705.3,735.8 707.7,687.0 710.3,719.7 712.9,716.9 714.4,797.2 715.8,685.2 717.5,779.8 719.0,716.4 720.7,776.9 723.5,738.7 725.4,762.6 727.9,741.9 729.7,737.3 732.7,707.0 734.2,775.2 736.6,686.9 739.0,756.4 741.8,709.3 744.9,768.8 747.7,724.5 749.2,776.7 752.0,697.3 754.3,769.8 756.1,683.4 758.9,768.7 761.8,679.3 764.1,759.8 767.1,671.7 770.0,759.9 772.9,659.1 775.5,744.0 778.0,665.4 780.3,747.6 782.5,673.4 784.6,761.2 786.5,663.6 788.2,751.2 789.7,657.7 791.2,762.0 794.3,662.8 797.4,763.9 799.7,656.9 802.8,768.9 805.8,676.7 808.0,752.5 811.2,683.6 813.2,771.0 815.7,658.6 818.9,762.9 820.6,667.4 823.6,773.0 825.7,656.2 827.7,781.6 830.7,652.4 832.6,733.7 834.7,680.3 836.9,743.3 838.7,658.2 840.1,734.7 843.3,647.5 844.6,764.7 846.9,646.7 849.3,730.4 851.6,658.1 853.8,703.2 855.1,650.9 857.7,750.4 859.2,635.2 861.2,699.4 862.6,663.1 864.9,687.8 868.1,609.4 869.8,707.6 872.1,641.7 874.4,744.7 877.7,632.8 880.6,765.8 883.0,659.9 885.3,747.9 888.5,691.0 891.8,752.8 894.9,686.9 897.7,774.4 900.7,677.8 904.0,743.8 906.8,661.9 908.3,756.9 909.7,659.4 912.8,758.1 915.8,667.3 918.3,763.5 921.2,673.1 924.4,757.2 926.8,656.3 929.8,762.5 932.0,672.7 934.1,758.2 936.2,679.0 937.9,767.7 939.5,681.7 942.7,777.8 944.4,681.6 947.5,769.5 949.2,714.1 950.8,780.7 952.9,683.1 955.8,776.0 957.6,683.0 959.0,759.9 962.1,682.3 965.3,760.5 967.5,689.0 969.7,751.3 972.5,682.8 975.2,762.9 977.8,688.6 980.4,750.6 982.8,671.8 984.7,738.3 986.4,679.5 989.3,750.3 991.8,678.0 994.5,776.9 996.3,677.9 999.6,756.6 1002.1,701.4 1003.4,767.8 1006.0,682.3 1007.7,736.7 1009.6,669.0 1011.7,777.0 1013.1,637.8 1014.5,742.2 1016.7,618.9 1019.5,742.4 1021.8,636.1 1023.5,735.9 1024.9,617.9 1027.4,707.8 1029.9,600.2 1031.5,687.8 1033.9,617.5 1036.7,696.2 1039.9,594.5 1043.0,695.8 1044.5,624.2 1045.9,715.3 1047.8,625.2 1050.7,732.1 1053.8,612.2 1057.1,731.3 1058.8,612.8 1061.1,729.5 1062.9,635.4 1065.1,749.4 1067.9,621.9 1070.9,745.7 1073.1,621.3 1075.5,747.7 1078.0,627.6 1081.2,758.5 1083.1,633.6 1085.9,758.4 1088.6,656.5 1090.8,756.8 1092.4,650.5 1095.1,749.8 1098.2,675.9 1100.7,730.6 1102.8,661.2 1106.0,766.8 1107.9,656.4 1111.1,780.1 1114.2,668.9 1116.4,788.8 1117.7,668.5 1120.0,788.6 1121.4,673.4 1123.6,783.3 1126.2,680.0 1129.2,780.4 1130.6,689.5 1132.6,774.8 1134.6,704.1 1137.1,778.3 1139.0,710.4 1141.7,791.9 1144.2,707.9 1146.4,801.0 1148.6,724.1 1149.9,788.6 1151.6,719.4 1154.9,800.0 1156.8,713.1 1158.8,784.6 1161.1,713.6 1163.8,775.5 1167.0,701.5 1168.6,771.8 1171.1,681.8 1173.0,775.7 1174.5,712.7 1176.5,775.8 1179.1,687.8 1180.8,777.1 1183.3,685.3 1186.4,759.5 1188.4,703.6 1191.1,685.2 1194.0,709.7 1196.3,725.4 1199.5,693.2 1201.2,723.4 1204.1,673.7 1207.4,676.3 1209.1,677.8 1211.7,728.2 1214.0,651.0 1216.1,747.1 1218.4,707.8 1220.6,759.8 1223.3,663.1 1226.5,717.5 1228.5,715.6 1229.8,754.8 1232.8,704.9 1235.5,777.3 1237.6,703.9 1239.0,770.6 1242.1,717.4 1244.7,760.4 1247.0,694.8 1249.8,765.4 1252.2,717.8 1255.4,797.3 1258.4,715.2 1260.0,798.0 1261.5,702.1 1264.6,799.0 1267.8,702.4 1270.2,787.0 1272.2,705.3 1275.0,783.7 1277.8,690.3 1280.8,798.0 1284.1,685.7 1286.8,795.9 1289.1,704.5 1291.2,767.9 1293.8,684.8 1296.0,834.4 1297.6,719.4 1300.8,768.4 1302.1,703.8 1305.4,743.6 1308.6,658.7 1311.1,755.3 1313.4,671.4 1314.9,757.0 1317.9,675.5 1320.8,769.0 1322.2,670.3 1325.0,764.4 1326.4,661.6 1328.7,738.1 1330.7,685.4 1332.7,757.7 1335.5,701.2 1337.3,700.0 1338.8,624.0 1340.1,691.5 1343.0,649.1 1345.8,668.4 1347.6,636.6 1349.6,749.6 1352.2,667.2 1353.7,714.9 1356.6,605.4 1359.0,737.4 1361.2,646.5 1362.5,684.3 1365.6,601.2 1367.1,738.2 1370.0,609.2 1372.7,743.1 1375.4,627.1 1377.5,718.7 1379.8,617.8 1382.5,695.4 1385.5,685.0 1387.0,745.2 1390.1,628.8 1392.4,711.2 1394.9,640.7 1397.6,721.4 1400.0,690.7 1401.9,762.7 1404.3,649.3 1406.5,762.3 1408.7,654.3 1411.2,771.1 1414.3,719.2 1415.9,753.9 1417.4,662.9 1419.6,785.9 1421.8,717.9 1424.5,775.9 1426.6,682.9 1428.9,772.4 1431.0,710.6 1432.5,782.3 1434.7,692.9 1437.9,788.1 1440.1,732.3 1442.9,787.2 1444.8,712.4 1446.1,796.4 1449.3,705.3 1452.0,784.5 1453.6,708.9 1456.8,812.5 1459.9,714.0 1461.5,813.3 1464.1,712.2 1466.9,794.5 1469.0,705.3 1471.1,787.2 1474.3,730.6 1476.8,789.5 1479.8,710.5 1483.0,762.7 1485.8,766.0 1488.3,798.5 1490.4,704.3 1493.4,739.1 1495.2,761.8 1496.5,753.8 1499.6,743.2 1501.0,815.9 1504.2,729.5 1505.7,818.1 1507.0,716.7 1508.6,819.5 1511.6,725.3 1514.4,816.2 1515.9,721.6 1518.6,810.0 1520.4,724.1 1523.3,800.7 1525.0,717.5 1526.9,788.1 1528.4,706.0 1531.6,845.0 1533.0,725.7 1535.7,779.0 1538.5,707.7 1540.7,757.8 1543.5,678.9 1546.2,790.1 1548.9,672.0 1550.9,747.6 1553.1,664.1 1554.8,746.6 1556.6,685.6 1558.5,753.2 1560.1,636.2 1562.9,782.6 1565.1,709.5 1568.3,788.6 1570.6,644.9 1573.5,787.0 1576.2,649.5 1578.2,782.7 1580.2,657.7 1581.6,704.1 1584.1,676.2 1586.2,692.6 1587.8,624.7 1589.3,736.7 1592.5,683.0 1593.9,731.8 1595.6,646.1 1598.9,766.5 1602.1,621.9 1605.3,692.7 1607.4,625.1 1609.3,753.1 1611.1,633.8 1614.3,748.6 1616.8,596.1 1618.7,735.7 1621.5,590.2 1624.3,732.4 1625.8,592.2 1628.3,708.1 1631.6,600.5 1633.9,664.5 1635.3,611.9 1638.0,711.4 1640.5,634.8 1642.3,726.6 1644.0,644.8 1646.1,735.7 1647.9,613.9 1650.8,763.5 1652.1,645.0 1654.1,744.7 1656.2,644.6 1658.7,761.1 1661.8,643.9 1664.6,785.9 1666.0,661.1 1668.9,786.9 1671.5,643.5 1674.7,777.5 1677.0,646.3 1678.7,779.5 1680.4,675.8 1683.6,785.6 1685.0,651.7 1686.6,771.0 1689.3,696.1 1692.6,759.0 1693.9,688.9 1696.4,753.3 1699.4,656.9 1701.9,743.9 1704.2,659.5 1707.0,736.8 1708.8,641.9 1710.8,788.2 1713.7,652.6 1715.9,768.2 1717.7,680.9 1720.5,764.2 1721.9,666.1 1724.0,766.3 1725.8,653.1 1728.7,744.4 1730.8,669.4 1733.6,765.8 1735.9,691.1 1738.1,746.1 1741.2,679.8 1743.1,762.7 1745.8,698.9 1748.3,747.2 1750.8,683.4 1752.8,768.8 1754.7,700.9 1756.5,751.2 1757.9,686.7 1760.8,735.4 1762.3,693.5 1765.2,766.1 1768.5,691.1 1769.8,747.3 1771.8,704.1 1773.5,750.3 1775.6,703.9 1777.5,781.7 1779.1,700.5 1780.6,781.4 1782.2,684.2 1785.1,776.0 1787.9,688.1 1791.0,783.7 1792.3,686.9 1794.9,786.0 1797.1,682.0 1799.1,786.8 1801.8,683.8 1804.2,786.6 1805.9,684.1 1808.4,789.5 1811.1,694.3 1814.3,802.0 1816.4,700.2 1818.9,806.2 1821.8,699.2 1824.7,803.4 1826.5,697.2 1828.2,810.0 1829.7,687.2 1832.0,791.4 1834.9,689.1 1836.6,866.1 1838.0,715.0 1839.8,774.5 1841.8,679.0 1844.2,785.2 1845.6,663.2 1848.4,772.2 1850.1,645.1 1853.4,777.7 1854.8,648.3 1857.7,738.6 1860.7,658.6 1862.0,724.7 1863.8,666.0 1866.5,873.2 1869.8,629.7 1872.3,741.5 1875.4,607.5 1878.1,716.9 1879.2,630.1" fill="none" stroke="#7E2F8E" stroke-width="3.4" stroke-linejoin="round"/>
<path d="M421.8,979.0v-25M421.8,62.0v25M656.8,979.0v-25M656.8,62.0v25M891.9,979.0v-25M891.9,62.0v25M1127.0,979.0v-25M1127.0,62.0v25M1362.0,979.0v-25M1362.0,62.0v25M1597.1,979.0v-25M1597.1,62.0v25M1832.2,979.0v-25M1832.2,62.0v25M186.7,908.5h25M1879.2,908.5h-25M186.7,767.4h25M1879.2,767.4h-25M186.7,626.3h25M1879.2,626.3h-25M186.7,485.2h25M1879.2,485.2h-25M186.7,344.2h25M1879.2,344.2h-25M186.7,203.1h25M1879.2,203.1h-25" stroke="#000" stroke-width="4.6" fill="none"/>
<rect x="186.7" y="62.0" width="1692.5" height="917.0" fill="none" stroke="#000" stroke-width="4.6"/>
<text x="158.5" y="925.0" text-anchor="end" font-size="57">2.0</text>
<text x="158.5" y="783.9" text-anchor="end" font-size="57">2.2</text>
<text x="158.5" y="642.8" text-anchor="end" font-size="57">2.4</text>
<text x="158.5" y="501.7" text-anchor="end" font-size="57">2.6</text>
<text x="158.5" y="360.7" text-anchor="end" font-size="57">2.8</text>
<text x="158.5" y="219.6" text-anchor="end" font-size="57">3.0</text>
<text x="158.5" y="78.5" text-anchor="end" font-size="57">3.2</text>
<text x="186.7" y="1051.0" text-anchor="middle" font-size="57">0</text>
<text x="421.8" y="1051.0" text-anchor="middle" font-size="57">500</text>
<text x="656.8" y="1051.0" text-anchor="middle" font-size="57">1000</text>
<text x="891.9" y="1051.0" text-anchor="middle" font-size="57">1500</text>
<text x="1127.0" y="1051.0" text-anchor="middle" font-size="57">2000</text>
<text x="1362.0" y="1051.0" text-anchor="middle" font-size="57">2500</text>
<text x="1597.1" y="1051.0" text-anchor="middle" font-size="57">3000</text>
<text x="1832.2" y="1051.0" text-anchor="middle" font-size="57">3500</text>
<text x="184" y="48.7" font-size="57" textLength="83" lengthAdjust="spacingAndGlyphs">x10</text>
<text x="267" y="25.9" font-size="38">6</text>
<text x="1033" y="1139" text-anchor="middle" font-size="68.6">Time (s)</text>
<text transform="translate(46.8,520.5) rotate(-90)" text-anchor="middle" font-size="68.6">Mooring tension - T<tspan dy="18" font-size="47">1</tspan><tspan dy="-18"> (N)</tspan></text>
<rect x="1280" y="105.5" width="552.8" height="149.2" fill="#fff" stroke="#000" stroke-width="1.8"/>
<path d="M1287.5,145.7H1412" stroke="#0072BD" stroke-width="2.9" stroke-linecap="round" stroke-dasharray="2 5.05" fill="none"/>
<path d="M1563.5,145.7H1690" stroke="#D95319" stroke-width="3" stroke-linecap="round" fill="none"/>
<path d="M1288.3,216.2H1415" stroke="#EDB120" stroke-width="2.8" stroke-linecap="round" stroke-dasharray="17.3 9.3 3.7 9.3" fill="none"/>
<path d="M1563.5,216.2H1690" stroke="#7E2F8E" stroke-width="3" stroke-linecap="round" fill="none"/>
<text x="1430" y="164.7" font-size="57" textLength="118.6" lengthAdjust="spacingAndGlyphs">TW1</text>
<text x="1705" y="164.7" font-size="57" textLength="120.2" lengthAdjust="spacingAndGlyphs">TW2</text>
<text x="1430" y="235.2" font-size="57" textLength="119.3" lengthAdjust="spacingAndGlyphs">TW3</text>
<text x="1705" y="235.2" font-size="57" textLength="119.2" lengthAdjust="spacingAndGlyphs">TW4</text>
<text x="425.5" y="1240.5" font-size="68.6" xml:space="preserve" textLength="1178.7" lengthAdjust="spacingAndGlyphs">(A)  Time series of mooring tension on T</text>
<text x="1603.7" y="1258.5" font-size="47">1</text>
<path d="M421.8,1289.6V2206.4M656.8,1289.6V2206.4M891.9,1289.6V2206.4M1127.0,1289.6V2206.4M1362.0,1289.6V2206.4M1597.1,1289.6V2206.4M1832.2,1289.6V2206.4" stroke="#d0d0d0" stroke-width="1.8" fill="none"/>
<path d="M186.7,2140.9H1879.2M186.7,2075.4H1879.2M186.7,2009.9H1879.2M186.7,1944.5H1879.2M186.7,1879.0H1879.2M186.7,1813.5H1879.2M186.7,1748.0H1879.2M186.7,1682.5H1879.2M186.7,1617.0H1879.2M186.7,1551.5H1879.2M186.7,1486.1H1879.2M186.7,1420.6H1879.2M186.7,1355.1H1879.2" stroke="#c8c8c8" stroke-width="1.3" fill="none"/>
<path d="M186.7,1804.1L190.2,1950.1 193.8,1771.8 198.4,1960.3 201.6,1824.9 205.8,1955.4 210.3,1799.2 213.7,2005.3 216.8,1728.5 220.3,2050.4 224.6,1695.7 228.8,1988.3 232.1,1692.9 235.9,2046.0 240.3,1755.0 244.1,2037.7 248.4,1644.5 253.3,1968.0 257.7,1782.7 261.5,2016.4 264.8,1741.3 268.5,2064.4 272.6,1728.8 277.3,2041.1 281.9,1705.6 285.5,2015.3 290.4,1766.7 294.3,2035.6 298.7,1743.7 301.9,2062.8 305.1,1716.7 308.5,2046.5 313.3,1759.0 317.7,1960.3 322.4,1804.6 326.6,1975.6 330.5,1756.6 334.5,2034.8 338.7,1794.8 343.4,2048.5 347.3,1741.1 352.1,1978.1 356.3,1744.0 360.9,1985.8 364.9,1773.3 369.3,1992.7 373.0,1776.9 377.1,2003.2 380.5,1720.9 383.7,2064.7 386.8,1607.3 391.2,2099.3 395.1,1751.5 399.9,2049.4 404.5,1647.1 408.3,2046.9 413.3,1799.4 417.4,1980.9 422.0,1670.0 425.8,1957.8 429.2,1610.4 432.5,1948.5 435.9,1508.0 440.1,2001.0 443.3,1654.7 446.4,2031.6 451.0,1685.3 454.2,2036.7 458.1,1771.1 462.1,2003.5 466.4,1756.8 470.4,2018.7 475.2,1633.3 479.7,2016.3 483.9,1669.0 488.1,2034.1 492.1,1787.4 497.1,1968.1 500.5,1820.7 504.9,1934.2 509.0,1788.9 512.1,1956.8 515.7,1686.3 520.5,2034.1 525.1,1808.3 528.1,1947.7 531.7,1771.8 534.7,1953.1 539.4,1806.7 542.6,1946.8 545.7,1768.3 550.7,1945.0 554.6,1820.6 558.2,1941.9 561.3,1816.5 565.1,1942.3 568.8,1820.6 572.9,1988.3 575.9,1807.3 579.2,1943.3 582.6,1808.0 586.5,1959.5 590.1,1723.5 594.3,1970.5 597.9,1736.2 602.7,2029.1 607.6,1725.9 610.8,2016.3 614.2,1769.2 618.3,1988.8 622.8,1766.4 626.0,2024.0 629.3,1674.0 633.2,1975.0 637.6,1776.7 642.4,1967.0 647.1,1687.8 651.7,2016.3 654.8,1646.0 659.8,1997.8 664.0,1755.9 667.2,1991.4 670.7,1741.3 674.9,1983.0 678.7,1758.3 682.6,1959.7 687.2,1649.6 691.8,2054.5 695.9,1777.9 700.5,1980.4 704.3,1679.1 709.3,2011.2 713.5,1690.3 718.4,2007.6 721.5,1749.4 726.3,1997.4 730.4,1761.5 734.8,2000.3 738.2,1764.4 742.3,1990.9 745.9,1759.1 749.1,1928.2 752.1,1795.5 756.9,1975.5 761.3,1734.7 764.7,1993.4 768.2,1700.6 772.1,2030.6 776.8,1728.7 780.0,2015.3 784.9,1759.6 789.8,1986.8 793.3,1791.9 797.6,1966.8 801.3,1783.7 805.7,1969.5 808.9,1726.5 812.8,1974.9 817.0,1795.4 821.2,1967.9 825.6,1817.2 830.4,1920.3 833.9,1781.5 837.2,1928.8 841.0,1802.0 845.1,1933.5 850.0,1714.8 854.5,1954.9 858.9,1794.8 863.9,1963.2 867.4,1798.2 870.9,1978.1 874.8,1807.0 878.4,1955.5 882.7,1698.5 887.6,1980.9 890.9,1776.6 894.9,1986.8 899.3,1785.0 903.3,1962.8 908.1,1679.1 912.6,1957.9 917.3,1782.3 920.6,1958.4 923.9,1803.1 927.1,1954.5 931.7,1805.4 936.7,1980.7 939.7,1754.0 944.3,2004.7 948.7,1738.0 953.5,2028.9 957.1,1728.1 961.5,2041.8 965.0,1726.0 968.1,2004.9 972.6,1738.0 975.7,2012.5 980.1,1751.5 983.7,2015.4 987.7,1761.3 992.4,2003.3 995.9,1795.7 999.9,1952.1 1003.6,1763.7 1007.0,1930.0 1010.9,1810.9 1014.3,1967.1 1018.9,1750.4 1023.1,2004.6 1026.7,1655.2 1031.6,1960.3 1035.3,1766.4 1039.6,1995.9 1044.1,1812.6 1047.6,2013.8 1050.7,1720.9 1055.4,1963.5 1060.4,1567.1 1063.7,2034.1 1067.0,1782.1 1070.9,1980.7 1075.1,1808.6 1080.0,1953.1 1085.0,1802.4 1089.9,1954.7 1093.4,1794.8 1097.6,1995.9 1101.5,1835.8 1105.0,1931.1 1108.1,1833.2 1111.4,1932.3 1115.2,1820.2 1118.3,1970.5 1121.6,1817.7 1124.7,1962.0 1129.0,1789.3 1133.0,1982.7 1136.4,1787.1 1140.5,1989.0 1144.3,1786.0 1148.7,1983.9 1153.5,1793.6 1157.2,1970.8 1161.5,1746.4 1165.0,1947.6 1169.8,1816.0 1174.1,1978.1 1177.4,1784.6 1180.9,1994.2 1184.2,1779.2 1187.6,1980.0 1191.2,1782.0 1195.8,1960.3 1199.8,1797.3 1203.3,1985.2 1207.1,1810.6 1210.7,1972.8 1215.2,1771.8 1218.3,1983.2 1221.8,1794.6 1225.5,1980.0 1228.9,1759.1 1233.3,1996.2 1236.7,1636.9 1240.3,2008.7 1243.4,1763.9 1247.9,1995.7 1251.6,1811.0 1256.0,1953.8 1259.4,1812.4 1262.4,1995.9 1266.1,1827.3 1270.6,1938.1 1275.3,1784.6 1279.0,1976.8 1283.7,1773.1 1286.8,2011.5 1290.9,1754.5 1294.4,2018.9 1298.2,1751.1 1301.7,2022.2 1306.5,1778.4 1310.1,1982.5 1315.0,1720.9 1318.2,1973.3 1322.0,1791.9 1325.9,2003.6 1330.4,1736.2 1334.0,1981.9 1338.0,1748.9 1341.2,1971.6 1344.8,1790.1 1349.2,2024.0 1352.5,1715.8 1356.4,2024.0 1359.9,1671.0 1363.2,1977.2 1366.4,1810.5 1371.1,1963.1 1375.4,1733.6 1379.2,1940.3 1383.0,1765.5 1387.4,1994.8 1391.6,1644.5 1396.5,1988.3 1401.3,1747.7 1405.3,2026.1 1409.6,1730.1 1413.7,2058.4 1417.3,1738.7 1421.2,2068.0 1425.6,1691.5 1429.8,2058.8 1434.0,1744.3 1438.0,1988.3 1442.9,1740.3 1447.4,2015.7 1450.7,1789.3 1455.3,1970.2 1460.2,1798.8 1464.8,1995.4 1468.5,1755.5 1472.2,2036.7 1475.7,1764.4 1478.8,2015.5 1482.8,1777.7 1487.5,2013.4 1492.0,1718.4 1496.3,1996.5 1501.0,1766.2 1505.3,1991.0 1508.8,1778.5 1513.4,1983.7 1517.1,1803.6 1521.9,1963.0 1525.6,1774.2 1528.8,2006.1 1533.2,1657.2 1536.4,1982.8 1541.2,1761.7 1545.0,2008.8 1549.6,1766.7 1552.7,1998.9 1556.7,1764.9 1561.1,1992.8 1564.4,1796.5 1568.6,1955.1 1571.9,1705.6 1575.5,2031.6 1579.2,1718.7 1583.4,2059.6 1586.7,1573.2 1590.1,2006.1 1594.6,1685.3 1599.1,1972.3 1603.0,1787.6 1606.5,1953.9 1610.9,1775.0 1614.9,1958.2 1618.5,1675.1 1623.2,1988.9 1626.6,1773.0 1631.2,1992.5 1635.5,1680.2 1639.8,2006.1 1644.1,1757.5 1648.6,2035.3 1653.4,1718.4 1658.2,2054.8 1661.7,1715.1 1665.1,2050.7 1669.9,1720.8 1673.3,2034.4 1676.7,1758.8 1681.3,2005.2 1686.3,1682.7 1690.9,2014.6 1695.0,1758.4 1698.7,1986.0 1703.7,1663.9 1708.2,2011.2 1712.4,1795.1 1715.5,1959.4 1718.8,1811.5 1721.9,1950.3 1726.7,1804.9 1730.2,1944.7 1733.5,1687.8 1737.7,1946.8 1741.1,1770.8 1745.2,2054.5 1750.1,1595.1 1754.8,1945.4 1758.3,1757.3 1763.1,1949.9 1766.9,1718.4 1771.0,1968.1 1774.6,1780.4 1779.6,1964.3 1783.2,1656.2 1787.7,2013.8 1791.9,1801.2 1796.3,1976.0 1799.5,1755.5 1803.6,2032.2 1808.6,1739.3 1812.7,1995.0 1816.1,1719.9 1819.2,1995.9 1822.9,1804.9 1827.4,1948.2 1830.4,1829.1 1833.5,1920.7 1837.8,1765.3 1842.6,1954.1 1846.5,1635.3 1850.7,2006.1 1854.2,1757.7 1857.8,1981.5 1861.7,1642.0 1865.2,1934.2 1869.1,1806.9 1872.4,1975.6 1877.2,1741.3 1879.2,1940.7" fill="none" stroke="#0072BD" stroke-width="2.9" stroke-linecap="round" stroke-dasharray="2 5.05" stroke-linejoin="round"/>
<path d="M186.7,1852.2L188.8,1905.1 191.6,1851.8 194.5,1957.5 197.0,1854.6 200.1,1903.4 202.3,1858.5 205.5,1900.6 208.2,1855.5 211.2,1899.3 213.5,1855.3 215.4,1901.2 218.3,1855.2 220.7,1900.8 223.2,1800.3 226.3,1900.5 228.8,1853.0 231.8,1902.0 234.1,1805.5 236.7,1952.3 239.1,1853.1 241.2,1904.9 243.9,1852.7 246.5,1904.7 249.3,1845.2 252.0,1907.2 254.3,1846.5 256.4,1911.7 259.1,1844.4 261.7,1910.0 263.9,1847.7 266.3,1916.0 268.2,1844.4 270.1,1916.7 272.1,1843.8 274.2,1910.2 277.1,1845.1 280.0,1910.9 283.0,1847.4 285.6,1902.4 288.5,1855.2 291.2,1899.4 293.3,1861.1 295.5,1892.9 298.8,1865.1 300.6,1894.4 302.5,1861.2 305.2,1895.0 307.8,1858.5 310.7,1896.1 313.1,1857.8 316.1,1900.4 318.5,1859.0 321.1,1901.5 323.9,1856.4 327.2,1902.4 329.3,1849.8 331.8,1909.1 334.2,1845.5 336.1,1907.1 339.4,1808.2 342.3,1909.4 344.7,1845.4 347.0,1910.3 349.1,1844.9 351.6,1905.6 353.9,1849.4 356.5,1903.5 359.2,1855.1 361.9,1903.7 365.0,1853.7 368.0,1902.6 370.0,1857.3 372.0,1902.5 374.8,1856.6 377.3,1898.2 379.1,1855.7 381.4,1903.3 383.5,1800.3 386.2,1965.4 388.3,1859.4 391.6,1900.7 394.8,1858.0 396.7,1897.0 399.5,1861.5 402.8,1909.1 405.1,1860.8 408.4,1970.6 410.5,1859.9 412.5,1903.4 414.6,1858.2 416.9,1902.1 419.7,1850.9 422.8,1905.5 424.7,1843.2 426.6,1909.6 428.7,1747.9 431.9,1915.9 435.3,1713.8 438.4,1910.1 440.3,1840.1 442.3,1910.0 444.8,1847.4 447.6,1908.2 450.5,1851.4 453.4,1904.1 455.5,1850.4 458.7,1904.1 461.7,1855.8 464.1,1899.2 466.5,1853.0 468.4,1901.3 470.7,1856.5 472.8,1900.7 475.3,1854.3 478.1,1902.0 481.4,1800.3 483.8,1902.6 486.1,1850.7 489.2,1903.3 491.2,1851.8 493.4,1900.7 496.3,1849.8 499.2,1902.7 501.8,1852.3 504.1,1901.4 506.2,1853.1 508.1,1899.2 511.0,1852.7 513.8,1898.2 516.5,1853.0 519.2,1898.9 522.4,1856.1 525.8,1898.2 528.2,1855.8 530.4,1899.2 532.5,1849.5 534.6,1901.8 537.9,1848.4 540.5,1903.7 542.6,1849.8 544.8,1903.6 547.6,1852.7 550.2,1899.1 553.1,1857.7 556.5,1893.9 558.9,1859.3 562.1,1890.2 564.3,1861.5 566.5,1892.1 569.9,1858.7 572.8,1896.2 575.8,1856.2 579.1,1897.0 581.6,1856.8 584.2,1899.7 586.3,1854.8 589.0,1903.5 591.7,1849.0 594.5,1903.3 596.9,1850.6 598.9,1904.1 601.2,1800.3 603.1,1904.1 605.0,1849.8 607.0,1901.0 608.9,1850.0 612.0,1905.3 613.9,1852.5 616.2,1904.9 619.4,1846.8 621.5,1905.6 624.3,1841.3 627.4,1912.7 629.9,1842.6 632.9,1918.6 635.7,1840.6 637.8,1916.5 641.0,1838.8 643.9,1911.7 646.0,1843.7 649.1,1962.7 652.2,1847.6 655.5,1908.6 658.3,1849.5 661.3,1902.0 663.3,1856.7 666.5,1896.0 668.5,1858.9 671.1,1889.7 673.5,1864.8 676.3,1887.8 679.7,1866.2 683.0,1889.3 685.2,1859.4 688.2,1904.2 691.2,1859.6 693.1,1957.5 696.2,1855.7 698.9,1901.6 701.5,1850.5 703.7,1901.9 706.3,1774.1 708.8,1902.0 710.6,1854.4 712.7,1899.7 715.9,1766.2 718.1,1896.2 721.4,1856.8 724.0,1893.3 726.9,1860.9 728.7,1893.4 730.6,1863.1 732.5,1894.3 735.4,1860.8 737.7,1894.2 739.7,1862.5 742.8,1892.8 745.1,1859.5 747.8,1894.1 750.6,1858.8 753.3,1898.6 755.9,1855.0 757.7,1903.0 759.9,1849.9 762.8,1905.7 765.7,1851.8 769.1,1905.9 770.9,1845.9 773.1,1906.6 775.1,1849.3 778.2,1909.3 781.1,1852.2 784.3,1907.5 786.5,1849.4 789.7,1904.0 791.5,1849.6 793.5,1904.4 795.8,1856.2 798.7,1898.3 801.5,1863.6 803.5,1892.8 805.5,1865.5 808.5,1894.6 811.1,1864.2 813.0,1898.4 814.8,1861.1 816.8,1900.5 818.9,1856.7 822.0,1900.8 824.2,1857.2 827.5,1899.8 830.1,1859.3 832.9,1900.6 834.9,1856.2 837.0,1903.0 839.2,1858.3 841.2,1900.9 843.7,1859.2 845.8,1901.7 848.0,1863.9 850.3,1952.3 853.2,1862.1 856.5,1898.0 858.6,1866.5 861.9,1895.6 864.6,1869.9 866.5,1891.2 868.7,1870.8 871.8,1893.6 873.8,1868.7 876.1,1894.2 878.4,1865.9 880.4,1898.2 883.3,1865.4 886.0,1901.8 888.1,1861.8 891.4,1901.5 894.3,1859.4 897.5,1904.4 900.9,1862.5 903.3,1904.2 905.7,1862.9 908.5,1952.3 910.4,1795.1 913.5,1902.8 916.7,1859.7 919.8,1903.7 922.4,1863.6 925.6,1906.0 928.5,1861.1 931.7,1906.9 934.6,1855.7 937.0,1908.5 939.6,1856.6 942.6,1910.2 944.6,1855.0 947.8,1918.7 951.2,1853.0 954.4,1912.7 957.1,1850.5 958.9,1915.1 962.1,1847.5 964.2,1919.5 966.0,1849.8 968.6,1919.5 971.9,1847.7 974.7,1914.5 976.9,1851.7 978.9,1916.0 981.5,1854.3 983.9,1912.0 986.0,1858.3 988.2,1905.6 991.4,1867.8 994.2,1900.4 996.6,1869.2 998.7,1898.9 1001.2,1871.3 1003.1,1902.2 1006.1,1867.5 1009.0,1903.2 1011.3,1862.2 1013.9,1907.7 1016.5,1863.0 1018.8,1908.3 1022.1,1862.1 1024.5,1905.7 1027.7,1863.5 1031.0,1904.5 1033.5,1866.9 1035.5,1900.9 1038.4,1868.2 1040.9,1907.2 1043.6,1860.8 1046.9,1912.9 1048.9,1856.5 1052.1,1910.5 1054.6,1858.8 1056.7,1913.4 1058.9,1858.1 1061.1,1916.3 1063.7,1782.0 1067.0,1916.2 1069.9,1854.3 1072.6,1915.2 1075.8,1850.9 1078.3,1921.0 1080.4,1846.1 1082.8,1925.6 1086.1,1845.6 1089.1,1923.6 1091.8,1849.9 1095.1,1920.7 1097.2,1852.5 1100.4,1919.4 1103.7,1857.4 1106.0,1912.9 1108.5,1858.6 1110.6,1911.2 1112.5,1861.3 1114.7,1908.7 1117.9,1862.8 1119.9,1911.8 1122.2,1860.4 1124.7,1912.6 1126.7,1854.3 1128.8,1916.7 1131.0,1857.3 1133.8,1918.2 1136.9,1853.4 1139.0,1911.2 1141.5,1855.2 1144.0,1914.3 1146.4,1858.7 1149.3,1912.7 1152.6,1861.6 1154.8,1909.1 1157.1,1860.4 1159.0,1910.9 1160.8,1860.1 1163.6,1909.2 1165.8,1856.6 1168.0,1912.7 1171.4,1856.1 1173.9,1912.8 1176.6,1858.2 1178.9,1911.6 1182.1,1857.4 1184.2,1909.6 1186.5,1859.8 1189.1,1907.7 1192.4,1862.5 1194.8,1910.0 1197.9,1859.7 1200.5,1909.0 1203.3,1858.4 1205.4,1906.8 1208.6,1855.1 1211.5,1911.3 1214.0,1855.3 1217.2,1909.2 1219.4,1853.2 1221.7,1914.6 1224.8,1818.6 1228.1,1913.6 1231.5,1849.4 1234.1,1916.2 1237.1,1851.2 1239.9,1915.1 1242.1,1848.4 1245.4,1915.5 1247.8,1853.0 1251.0,1912.9 1253.0,1852.3 1255.1,1914.7 1257.0,1856.4 1259.3,1909.2 1261.1,1861.8 1263.7,1902.4 1266.5,1866.6 1269.8,1899.8 1272.9,1865.2 1276.1,1904.4 1278.9,1856.0 1282.1,1911.8 1284.5,1851.5 1287.4,1919.5 1289.8,1846.5 1292.7,1918.0 1295.1,1843.4 1297.8,1925.1 1300.6,1843.3 1303.4,1923.1 1305.3,1840.0 1307.3,1920.1 1310.3,1841.4 1312.1,1917.2 1314.7,1849.1 1316.8,1913.1 1318.8,1856.5 1321.3,1907.9 1323.3,1862.0 1325.2,1899.7 1328.0,1867.4 1331.3,1900.6 1334.4,1859.5 1337.6,1906.3 1340.0,1854.4 1343.1,1911.5 1345.0,1850.1 1347.2,1916.5 1349.7,1818.6 1352.4,1915.0 1355.1,1844.5 1358.5,1916.9 1361.6,1846.2 1363.6,1914.6 1366.9,1851.9 1369.4,1915.8 1372.5,1853.2 1374.4,1909.6 1377.7,1856.7 1380.1,1906.9 1383.0,1861.3 1385.9,1905.3 1388.2,1859.9 1390.5,1902.7 1392.5,1818.6 1394.6,1903.6 1397.6,1859.6 1400.4,1904.9 1403.3,1859.5 1406.5,1906.4 1408.4,1862.7 1410.4,1903.4 1413.5,1862.5 1416.6,1900.2 1419.2,1866.1 1422.4,1897.8 1425.6,1871.1 1428.9,1894.9 1431.9,1872.8 1435.2,1894.9 1438.2,1870.8 1440.3,1898.8 1442.4,1866.7 1445.1,1899.5 1447.9,1866.7 1449.8,1901.0 1453.2,1862.8 1455.4,1908.0 1458.5,1861.1 1460.5,1908.5 1462.3,1854.6 1464.6,1914.2 1468.0,1851.3 1470.1,1922.6 1471.9,1846.3 1474.5,1949.6 1477.8,1843.8 1480.8,1923.9 1483.2,1845.5 1485.2,1928.7 1488.1,1846.9 1490.7,1917.3 1494.1,1851.7 1496.9,1912.8 1499.0,1857.4 1502.1,1905.3 1505.4,1868.7 1508.5,1897.2 1511.2,1873.5 1514.5,1894.1 1517.0,1871.6 1519.3,1896.2 1521.5,1873.5 1523.5,1898.2 1526.8,1868.1 1529.9,1905.2 1533.3,1861.3 1536.1,1914.8 1538.5,1849.6 1541.1,1919.8 1543.4,1843.2 1545.4,1925.9 1547.8,1842.3 1549.7,1930.4 1552.7,1846.7 1554.7,1922.6 1557.1,1846.7 1559.7,1922.6 1562.6,1845.6 1564.9,1918.6 1568.0,1855.4 1570.1,1914.8 1573.5,1858.0 1576.9,1911.6 1578.9,1826.5 1581.6,1986.3 1583.8,1862.1 1586.0,1981.1 1588.4,1861.6 1591.3,1908.3 1594.6,1859.1 1598.0,1913.8 1600.5,1858.2 1602.9,1916.6 1605.9,1850.2 1609.2,1917.1 1612.1,1849.8 1615.3,1916.4 1617.2,1853.3 1619.3,1916.5 1621.2,1856.0 1624.4,1914.3 1626.7,1855.4 1629.5,1916.6 1632.0,1857.4 1634.7,1911.3 1637.1,1859.9 1639.2,1915.1 1641.8,1853.6 1643.8,1912.9 1646.2,1857.5 1648.0,1915.9 1650.4,1850.7 1652.8,1915.0 1656.1,1854.1 1659.4,1913.5 1662.3,1855.6 1665.0,1914.4 1668.2,1855.3 1671.5,1907.6 1674.7,1864.4 1677.8,1905.4 1680.4,1867.7 1683.4,1900.4 1685.8,1869.9 1688.2,1903.9 1690.9,1866.4 1693.8,1904.1 1695.9,1861.4 1698.1,1909.1 1700.6,1863.2 1703.4,1909.6 1705.2,1862.4 1707.7,1907.4 1710.9,1863.2 1713.4,1902.9 1716.3,1865.8 1718.8,1900.7 1721.9,1870.0 1724.2,1897.8 1727.0,1872.2 1729.2,1896.5 1731.2,1874.1 1734.0,1894.3 1736.9,1873.5 1740.0,1895.4 1742.1,1872.5 1744.2,1899.4 1747.2,1870.6 1749.1,1902.1 1751.4,1866.7 1753.7,1907.7 1755.7,1862.2 1757.7,1913.9 1760.6,1854.3 1763.0,1917.5 1766.4,1847.0 1769.1,1923.9 1771.3,1842.5 1773.7,1921.4 1776.3,1840.8 1779.5,1927.4 1782.2,1837.2 1784.2,1933.9 1787.2,1839.1 1789.4,1931.8 1791.4,1836.8 1794.3,1933.4 1796.8,1835.0 1799.3,1924.2 1802.5,1837.2 1804.4,1926.2 1806.8,1843.5 1808.9,1916.1 1810.8,1855.4 1813.8,1911.7 1816.7,1855.0 1819.1,1909.8 1821.3,1860.4 1823.8,1909.0 1825.9,1862.8 1828.9,1904.2 1830.8,1863.0 1833.6,1905.5 1836.3,1861.1 1838.5,1901.9 1840.5,1867.9 1843.0,1898.2 1845.8,1871.7 1848.3,1895.4 1851.3,1870.9 1853.2,1898.3 1855.7,1858.4 1858.6,1949.6 1860.6,1787.2 1862.9,1912.8 1865.7,1850.2 1868.5,1919.2 1871.3,1845.3 1873.6,1920.1 1876.3,1843.5 1878.4,1929.6 1879.2,1835.9" fill="none" stroke="#D95319" stroke-width="3.4" stroke-linejoin="round"/>
<path d="M186.7,1873.6L188.7,1902.7 191.1,1873.0 193.3,1907.2 196.5,1869.0 198.9,1913.4 200.7,1864.7 203.2,1916.6 206.4,1856.0 209.4,1925.4 212.5,1852.8 215.7,1925.5 218.6,1855.8 220.6,1928.0 222.7,1852.7 226.0,1924.1 228.2,1859.5 231.3,1913.8 233.2,1870.8 235.7,1908.1 237.9,1873.4 240.3,1902.8 243.4,1873.4 246.5,1904.2 248.5,1874.8 251.5,1902.7 253.4,1877.5 256.0,1900.8 258.2,1878.3 261.2,1902.5 263.8,1872.7 266.9,1910.4 269.1,1864.2 272.4,1917.2 275.7,1858.2 278.5,1925.4 281.3,1852.5 284.4,1922.1 287.1,1852.9 289.7,1923.5 291.6,1860.9 294.4,1918.0 297.1,1862.2 300.4,1912.6 302.3,1865.9 304.3,1910.0 306.5,1869.0 309.5,1909.4 312.3,1866.0 314.2,1912.1 316.3,1865.6 318.3,1910.4 321.3,1868.1 323.1,1910.8 325.8,1868.7 328.0,1907.5 330.2,1868.3 332.8,1908.3 334.8,1867.3 338.0,1909.3 340.2,1865.7 342.4,1908.3 344.9,1865.7 348.1,1907.4 349.9,1864.2 352.6,1908.3 355.2,1863.6 358.0,1910.0 360.0,1865.0 363.2,1910.8 366.1,1860.6 368.0,1915.8 371.3,1861.6 374.4,1914.3 377.5,1858.3 380.3,1913.4 382.9,1860.4 385.4,1913.3 387.6,1861.9 391.0,1910.0 392.8,1862.0 396.2,1910.4 399.2,1863.5 401.9,1910.0 403.9,1860.7 407.0,1913.6 408.9,1860.8 411.1,1915.5 413.3,1861.8 416.4,1911.6 419.3,1860.9 422.2,1911.1 424.9,1864.0 427.9,1907.2 431.0,1861.9 433.1,1906.8 435.3,1867.0 438.4,1905.6 441.0,1865.2 443.4,1909.2 445.4,1864.9 447.8,1910.4 450.9,1863.3 453.4,1908.7 455.9,1861.1 458.6,1910.7 460.7,1863.3 463.2,1908.7 465.4,1862.5 468.4,1910.0 471.2,1860.5 474.5,1907.5 476.5,1862.9 478.6,1911.4 480.6,1856.4 482.8,1915.3 484.7,1858.5 487.4,1915.3 490.8,1855.7 494.1,1918.5 496.8,1851.0 499.7,1914.5 502.3,1855.5 505.1,1914.6 508.2,1856.0 511.0,1919.3 514.3,1854.1 516.7,1915.6 519.1,1859.6 521.8,1915.2 524.2,1861.2 527.2,1913.7 529.1,1859.5 531.5,1908.6 533.8,1861.5 536.1,1913.8 538.1,1859.2 540.9,1914.6 542.9,1858.5 546.3,1912.8 549.0,1861.8 552.1,1909.4 554.5,1863.5 556.9,1907.9 560.1,1864.5 563.1,1906.8 565.4,1867.5 567.3,1901.7 569.8,1867.8 571.9,1905.2 574.1,1865.6 577.1,1905.6 580.4,1865.1 583.5,1908.9 586.0,1858.7 588.3,1915.6 591.5,1853.0 593.6,1914.0 596.3,1847.7 598.9,1926.0 600.8,1847.9 604.2,1923.6 607.1,1845.3 609.7,1931.7 612.1,1839.6 614.5,1926.1 616.8,1838.8 618.7,1920.4 621.7,1852.1 623.9,1913.1 626.0,1859.9 628.6,1908.3 630.6,1865.3 632.8,1902.3 635.8,1870.9 637.7,1904.6 640.6,1866.8 644.0,1905.0 646.3,1863.9 648.4,1906.8 650.3,1865.6 652.1,1907.1 655.4,1865.3 658.3,1906.0 660.6,1867.5 663.7,1906.6 666.3,1867.0 668.7,1905.1 671.2,1867.8 673.2,1902.0 675.3,1870.6 677.4,1904.5 680.5,1866.0 682.6,1906.4 686.0,1864.1 688.5,1906.3 690.9,1862.6 692.8,1911.2 695.6,1862.0 698.2,1909.6 700.2,1856.0 702.2,1910.6 705.2,1859.3 707.7,1910.9 709.8,1862.2 712.4,1914.2 714.4,1859.7 717.6,1914.2 720.6,1857.0 722.5,1913.2 725.2,1859.9 728.4,1910.9 730.7,1864.2 734.1,1904.4 736.8,1871.0 739.4,1903.0 741.9,1869.0 744.2,1903.0 747.6,1867.8 750.6,1910.9 752.5,1860.9 755.3,1912.3 758.4,1861.5 760.7,1909.7 763.9,1860.3 765.9,1911.3 768.0,1862.1 771.1,1910.7 773.5,1863.1 775.8,1915.0 778.4,1859.6 780.4,1914.8 783.0,1859.0 785.4,1913.0 787.4,1863.3 790.7,1910.3 793.9,1866.1 797.1,1907.9 800.2,1867.4 803.4,1904.2 806.1,1870.2 808.0,1908.9 811.2,1864.5 813.6,1911.7 815.8,1864.5 818.7,1912.2 821.7,1856.6 824.4,1914.4 827.2,1856.6 830.0,1920.2 832.0,1857.4 835.1,1917.5 837.3,1853.9 839.1,1923.7 841.8,1858.0 843.9,1918.5 846.7,1855.2 848.7,1924.7 851.9,1849.9 854.7,1925.6 857.6,1855.0 860.6,1925.6 862.9,1851.1 865.0,1919.4 867.2,1855.9 869.7,1920.3 872.9,1856.8 875.5,1919.1 877.8,1855.0 879.9,1918.2 882.1,1857.5 884.1,1916.1 886.9,1856.4 889.7,1920.1 893.0,1860.1 895.1,1925.5 898.3,1858.0 900.7,1921.2 903.4,1851.1 905.7,1929.4 908.3,1848.7 911.1,1933.1 913.8,1854.2 917.0,1929.9 919.5,1852.5 922.8,1923.7 926.1,1852.9 928.6,1921.0 931.9,1857.6 934.7,1921.4 937.2,1864.5 939.9,1916.9 942.9,1865.4 945.6,1911.6 948.9,1870.5 952.2,1904.6 955.4,1875.9 958.8,1904.7 962.0,1875.3 964.8,1905.5 966.6,1873.4 970.0,1907.8 972.5,1866.5 975.5,1914.2 978.8,1865.2 981.6,1910.2 983.9,1869.1 987.2,1911.1 989.3,1872.7 992.1,1903.8 995.3,1877.3 997.2,1902.8 999.4,1873.6 1001.4,1909.0 1004.1,1867.4 1006.9,1914.7 1010.1,1864.4 1012.7,1915.2 1015.2,1865.0 1017.6,1914.5 1019.9,1861.4 1023.1,1914.9 1025.6,1869.4 1027.5,1909.5 1030.0,1870.7 1033.0,1903.8 1036.2,1873.7 1039.3,1904.7 1041.9,1874.2 1044.4,1907.4 1047.2,1867.8 1049.6,1908.4 1052.5,1869.0 1055.4,1912.7 1058.8,1868.6 1061.1,1910.6 1064.2,1865.2 1067.1,1909.1 1069.4,1866.2 1072.0,1907.7 1075.4,1868.5 1077.2,1905.9 1080.6,1873.7 1082.7,1906.2 1084.6,1872.3 1087.5,1904.4 1089.7,1874.0 1091.8,1904.0 1094.7,1874.1 1096.7,1903.7 1099.9,1869.6 1103.1,1907.6 1105.9,1866.4 1107.8,1909.9 1110.7,1866.6 1113.5,1914.9 1116.5,1864.0 1118.7,1910.7 1121.9,1862.5 1124.7,1909.5 1127.8,1866.0 1130.9,1907.8 1134.0,1869.6 1136.1,1904.5 1138.3,1871.0 1140.5,1905.4 1143.5,1869.4 1145.6,1908.2 1148.8,1868.5 1150.7,1910.5 1152.6,1865.4 1156.0,1910.6 1159.1,1866.1 1161.2,1911.3 1163.7,1863.4 1165.9,1909.2 1169.1,1861.0 1170.9,1915.5 1173.5,1859.6 1175.7,1915.2 1177.6,1857.5 1181.0,1913.8 1184.1,1860.9 1187.4,1913.5 1190.6,1861.9 1193.8,1912.9 1196.8,1857.6 1199.4,1914.7 1201.4,1860.6 1204.6,1915.7 1207.8,1861.7 1209.7,1916.6 1212.9,1859.1 1215.2,1915.6 1218.2,1858.5 1220.5,1915.5 1223.1,1857.9 1225.6,1911.5 1227.9,1863.6 1229.7,1907.1 1233.1,1866.7 1235.0,1904.8 1237.6,1870.9 1240.2,1899.9 1243.4,1874.0 1246.1,1902.6 1248.0,1870.2 1250.7,1906.4 1253.8,1866.8 1255.7,1908.5 1258.3,1863.8 1261.4,1915.7 1264.2,1857.7 1266.8,1917.2 1268.8,1854.4 1271.1,1922.6 1274.4,1848.7 1276.3,1925.7 1278.5,1849.3 1281.0,1921.4 1284.3,1847.9 1287.2,1923.8 1289.1,1848.2 1292.0,1919.1 1294.6,1855.6 1297.3,1916.8 1300.4,1859.2 1303.0,1916.6 1304.9,1860.9 1308.2,1916.9 1310.6,1858.0 1312.5,1914.2 1315.0,1863.4 1317.3,1911.6 1319.9,1864.9 1321.8,1907.4 1324.9,1865.4 1327.9,1906.7 1331.2,1865.7 1333.4,1909.6 1335.4,1862.0 1338.3,1913.6 1341.5,1858.2 1343.5,1921.3 1346.1,1852.1 1348.5,1921.6 1351.5,1850.5 1354.8,1927.7 1358.2,1848.5 1360.5,1931.0 1362.4,1840.6 1365.3,1936.8 1368.5,1843.2 1370.7,1936.1 1373.9,1835.9 1376.7,1939.2 1378.8,1839.2 1381.1,1934.8 1384.2,1841.6 1387.1,1931.5 1389.8,1850.0 1391.9,1927.1 1394.5,1852.6 1397.0,1922.2 1399.5,1858.4 1401.8,1914.5 1404.3,1864.5 1406.9,1911.8 1408.7,1863.9 1410.6,1918.8 1413.5,1860.5 1416.8,1924.8 1420.0,1858.9 1423.3,1924.6 1426.6,1855.7 1429.5,1931.3 1431.7,1853.3 1433.8,1930.1 1436.3,1856.0 1438.6,1931.3 1441.8,1858.1 1444.1,1925.2 1446.5,1858.8 1449.0,1921.1 1451.8,1869.0 1454.5,1915.0 1457.3,1871.0 1460.3,1909.3 1462.2,1874.9 1464.1,1909.4 1466.6,1873.0 1470.0,1914.7 1472.3,1867.1 1474.7,1917.4 1477.8,1863.9 1479.9,1923.1 1483.2,1859.7 1486.3,1921.4 1488.7,1864.5 1491.2,1918.5 1493.5,1864.1 1495.8,1918.6 1498.7,1872.5 1501.7,1912.9 1504.8,1879.3 1507.6,1905.3 1509.7,1882.9 1511.5,1905.8 1513.7,1880.0 1516.6,1908.9 1518.9,1878.3 1522.1,1915.2 1525.0,1871.9 1526.9,1916.0 1528.8,1870.3 1531.3,1921.6 1534.6,1870.3 1537.0,1920.5 1539.6,1865.7 1542.7,1921.9 1545.7,1867.2 1549.0,1919.8 1551.0,1867.9 1554.3,1917.0 1557.0,1871.5 1560.4,1917.9 1563.1,1871.3 1565.2,1916.9 1567.2,1876.1 1569.6,1916.6 1572.7,1874.6 1575.7,1918.3 1579.1,1869.1 1582.3,1922.7 1584.3,1868.7 1586.6,1926.2 1588.7,1865.4 1591.3,1927.0 1593.3,1864.3 1595.4,1929.5 1598.0,1865.9 1600.9,1928.6 1603.4,1863.5 1606.2,1922.1 1608.2,1869.1 1610.8,1920.4 1612.9,1869.4 1615.5,1918.6 1617.5,1876.8 1620.2,1916.7 1622.3,1877.0 1624.7,1914.4 1627.1,1875.9 1630.1,1914.5 1633.0,1876.6 1635.6,1915.7 1638.0,1873.8 1640.7,1920.0 1643.2,1874.5 1646.3,1918.3 1648.8,1877.7 1652.0,1913.3 1653.9,1881.2 1656.5,1908.6 1659.7,1884.2 1662.2,1910.3 1664.1,1877.8 1666.0,1917.4 1668.8,1869.8 1670.7,1923.7 1673.4,1860.3 1675.9,1932.0 1678.6,1862.9 1680.7,1931.8 1682.7,1855.8 1685.1,1927.8 1687.1,1856.7 1690.1,1927.7 1692.5,1861.1 1695.3,1928.8 1698.3,1861.4 1701.0,1926.7 1704.3,1867.8 1707.2,1925.4 1710.3,1866.1 1713.1,1920.2 1715.4,1868.3 1718.4,1923.0 1721.1,1871.0 1723.4,1920.2 1725.7,1874.3 1728.8,1913.4 1732.1,1875.2 1734.8,1910.0 1737.1,1875.7 1739.1,1915.8 1742.4,1870.0 1745.5,1925.2 1748.2,1866.7 1750.8,1926.1 1753.3,1863.2 1756.1,1924.2 1759.4,1862.6 1762.8,1922.0 1764.6,1864.0 1767.9,1921.6 1770.8,1870.6 1773.2,1913.0 1775.7,1875.1 1778.4,1908.9 1780.8,1879.9 1783.0,1907.6 1785.7,1878.8 1788.9,1910.7 1791.8,1874.8 1794.4,1914.1 1796.7,1867.2 1799.0,1917.8 1802.0,1863.9 1804.1,1922.9 1807.3,1859.6 1810.1,1926.4 1812.4,1859.5 1814.9,1927.3 1817.8,1862.9 1820.3,1925.0 1822.1,1860.9 1824.5,1925.0 1826.6,1855.1 1828.7,1924.5 1831.1,1859.8 1833.5,1923.5 1835.6,1861.7 1837.5,1923.8 1839.7,1859.0 1842.1,1921.8 1844.7,1864.9 1848.0,1917.0 1849.9,1860.3 1852.7,1922.0 1855.0,1860.1 1857.9,1923.1 1859.7,1860.3 1862.2,1918.2 1864.2,1857.9 1866.0,1921.0 1868.9,1862.4 1870.7,1920.3 1873.3,1864.3 1875.6,1915.9 1878.9,1864.6 1879.2,1911.6" fill="none" stroke="#EDB120" stroke-width="2.9" stroke-linecap="round" stroke-dasharray="17.3 9.3 3.7 9.3" stroke-linejoin="round"/>
<path d="M186.7,1846.0L187.7,1905.7 188.7,1848.7 190.0,1904.6 191.1,1849.9 192.1,1899.0 192.9,1857.9 194.3,1891.6 195.7,1870.0 196.9,1892.9 198.1,1861.1 198.9,1899.3 199.8,1850.6 200.6,1906.3 201.6,1850.9 202.6,1905.5 203.9,1846.9 204.8,1907.3 206.4,1849.7 207.7,1903.2 209.2,1852.2 210.7,1899.4 212.1,1857.0 213.3,1902.1 214.3,1857.6 215.6,1898.8 216.8,1855.4 217.5,1903.8 218.4,1852.8 219.4,1901.5 220.9,1855.0 221.8,1900.9 222.8,1855.2 223.7,1900.1 224.5,1855.4 225.5,1903.4 226.9,1856.0 228.2,1907.5 229.2,1852.5 230.1,1906.8 231.2,1848.5 232.6,1903.5 233.5,1854.2 234.7,1907.2 235.6,1850.7 237.1,1906.3 237.9,1846.5 238.9,1910.5 240.1,1853.7 240.9,1902.3 242.0,1854.9 242.9,1900.9 244.3,1861.6 245.5,1893.6 246.2,1863.8 247.3,1893.0 248.3,1865.9 249.3,1891.1 250.8,1869.0 252.3,1891.1 253.8,1869.1 254.5,1892.7 256.0,1866.0 256.9,1893.1 257.9,1869.0 258.8,1890.7 259.9,1866.2 260.9,1897.5 261.7,1859.5 262.7,1901.4 263.6,1855.3 264.7,1906.4 266.2,1854.4 267.0,1903.1 267.7,1857.9 269.2,1901.7 270.4,1855.5 271.2,1902.5 272.2,1859.4 273.4,1900.5 274.9,1861.4 276.5,1897.4 278.0,1862.9 279.6,1898.8 281.0,1861.0 281.8,1899.0 282.7,1865.0 283.4,1897.7 284.8,1868.5 285.8,1894.7 287.2,1870.7 288.5,1896.6 289.9,1866.8 291.0,1901.3 292.3,1860.9 293.5,1901.9 294.5,1863.6 295.5,1898.5 297.0,1869.5 298.5,1894.3 300.0,1868.2 301.2,1902.5 302.3,1856.1 303.3,1906.9 304.1,1858.4 304.8,1906.8 306.4,1859.6 307.6,1901.6 308.6,1868.2 309.6,1892.6 311.1,1871.7 312.3,1897.2 313.1,1866.1 314.5,1900.9 315.3,1865.8 316.5,1898.5 317.3,1870.6 318.8,1897.9 319.9,1865.0 320.7,1904.7 322.1,1863.0 323.1,1907.0 324.4,1858.7 325.1,1905.5 325.9,1863.3 326.8,1902.0 328.2,1870.9 329.1,1899.5 330.5,1871.5 331.7,1897.9 333.3,1871.4 334.4,1901.9 335.5,1868.5 336.4,1902.1 337.6,1867.4 338.9,1901.8 340.0,1870.0 341.2,1899.5 342.0,1871.2 343.2,1900.7 344.2,1871.2 345.6,1900.3 346.4,1868.8 347.3,1903.0 348.3,1870.0 349.6,1901.1 351.1,1870.0 351.9,1900.1 353.1,1870.5 353.9,1903.1 355.0,1869.5 356.6,1905.0 358.0,1867.3 359.1,1903.0 360.5,1868.3 361.7,1903.3 363.2,1871.5 364.3,1901.4 365.4,1872.2 366.9,1899.9 367.7,1872.2 368.9,1899.8 370.3,1871.4 371.7,1900.7 373.2,1872.4 374.6,1902.0 375.3,1867.8 376.8,1906.4 377.8,1867.5 378.5,1912.3 380.0,1861.3 381.0,1917.7 382.1,1859.4 383.3,1914.3 384.1,1855.7 384.8,1914.3 385.7,1863.9 386.9,1906.1 387.9,1869.6 389.1,1900.7 390.4,1868.3 391.2,1910.9 392.1,1859.7 393.1,1915.9 394.0,1859.5 395.6,1918.1 396.4,1856.3 397.4,1913.1 398.6,1859.6 399.8,1911.3 401.3,1866.4 402.1,1908.1 403.3,1868.1 404.6,1906.5 405.9,1864.5 407.0,1909.6 408.2,1861.6 409.7,1910.2 410.8,1860.5 412.4,1918.9 413.9,1856.1 415.2,1917.3 416.5,1852.0 417.4,1914.7 418.6,1856.5 419.8,1909.2 420.6,1866.6 421.8,1905.1 422.9,1871.4 424.3,1909.0 425.0,1859.5 426.0,1917.1 427.5,1850.1 428.3,1929.4 429.2,1845.4 430.1,1933.6 431.4,1848.9 432.6,1927.3 434.1,1849.4 435.3,1921.1 436.1,1852.9 437.0,1920.8 438.4,1854.4 439.3,1923.9 440.9,1848.1 442.0,1927.3 443.5,1847.4 444.5,1923.1 446.0,1856.1 447.4,1913.4 448.2,1859.9 448.9,1913.0 450.0,1864.9 450.8,1909.7 451.8,1861.2 453.1,1911.7 453.8,1855.5 455.2,1917.4 456.5,1853.9 457.3,1920.9 458.3,1846.0 459.2,1927.8 460.7,1845.8 461.9,1928.7 463.2,1846.1 464.4,1922.2 465.6,1849.5 466.7,1921.0 467.4,1859.1 468.5,1911.1 469.3,1861.9 470.2,1906.7 471.2,1865.8 472.2,1909.3 473.1,1863.1 474.0,1908.7 474.9,1863.1 476.3,1913.5 477.4,1862.5 478.8,1913.1 480.4,1864.6 481.9,1904.8 483.4,1871.9 484.9,1894.5 485.8,1873.4 486.6,1904.2 487.5,1865.5 488.7,1905.8 490.2,1860.9 491.2,1909.7 492.6,1862.4 493.7,1910.5 494.6,1866.4 496.1,1907.0 497.1,1864.9 498.2,1906.3 499.6,1868.5 501.0,1902.7 501.9,1866.3 502.9,1906.4 504.5,1864.7 505.2,1908.8 506.5,1862.4 507.3,1908.0 508.5,1864.6 509.2,1909.0 510.8,1863.3 512.1,1911.1 512.8,1863.8 513.6,1908.8 514.3,1863.3 515.9,1911.5 516.8,1858.9 517.7,1912.1 518.8,1855.1 520.2,1916.3 521.4,1851.2 522.9,1930.1 524.5,1842.5 526.1,1931.6 527.4,1833.4 528.3,1933.2 529.0,1836.9 529.9,1934.7 530.8,1840.8 532.0,1933.7 533.1,1841.3 534.2,1923.3 535.5,1853.4 536.4,1919.2 537.5,1857.1 538.6,1910.0 540.2,1864.2 541.4,1909.4 543.0,1860.4 544.6,1908.9 545.3,1866.4 546.2,1903.9 547.7,1869.1 548.9,1900.1 550.4,1871.9 551.5,1901.3 552.2,1868.2 553.3,1906.5 554.1,1862.9 554.9,1907.6 556.5,1863.2 557.5,1904.7 558.6,1866.3 560.0,1901.6 560.9,1864.8 562.0,1907.9 562.8,1863.1 563.9,1912.2 565.2,1853.7 566.5,1914.7 567.6,1857.0 568.9,1916.3 570.1,1852.4 571.2,1916.6 572.1,1856.1 573.7,1907.6 574.6,1867.0 575.5,1898.9 576.4,1869.1 577.8,1902.4 579.1,1864.1 580.4,1910.4 581.4,1856.4 582.7,1915.2 583.9,1856.3 584.8,1911.6 585.7,1857.0 586.7,1912.7 588.1,1861.1 589.1,1910.2 590.2,1861.3 591.5,1904.0 592.7,1862.0 594.3,1904.3 595.3,1863.1 596.1,1905.8 597.0,1861.4 598.1,1911.0 599.1,1856.9 600.7,1913.9 601.5,1855.1 602.6,1911.0 603.9,1855.7 604.8,1907.5 606.0,1862.0 607.0,1904.8 608.6,1868.4 609.3,1895.6 610.5,1871.8 611.3,1896.6 612.3,1871.7 613.0,1897.4 614.5,1871.1 615.4,1895.7 616.9,1872.8 617.9,1898.6 618.9,1866.3 620.1,1904.9 621.2,1861.8 622.2,1906.9 623.4,1854.7 624.4,1914.6 625.4,1852.4 626.4,1912.5 627.9,1854.8 628.9,1916.7 630.0,1850.4 631.0,1916.9 632.3,1851.6 633.9,1912.6 635.0,1856.4 635.9,1906.2 637.4,1862.9 638.8,1900.7 640.0,1869.0 641.5,1900.4 642.3,1865.9 643.7,1906.9 644.8,1858.6 646.0,1911.8 647.5,1861.4 648.4,1906.5 649.2,1862.9 650.0,1906.0 651.4,1863.2 652.8,1901.5 654.0,1865.7 655.6,1900.4 656.7,1865.3 658.2,1904.0 659.3,1862.9 660.7,1910.4 661.7,1855.8 662.7,1909.2 664.1,1853.5 665.7,1913.2 667.2,1851.9 668.2,1918.5 668.9,1850.2 669.7,1918.7 671.3,1850.5 672.9,1914.9 674.4,1850.7 675.8,1913.4 677.3,1860.5 678.6,1908.3 679.6,1866.1 680.9,1900.0 682.4,1869.4 683.7,1899.4 685.0,1863.7 686.5,1906.5 688.1,1861.6 689.2,1904.7 690.6,1862.3 691.6,1906.9 692.3,1867.6 693.7,1898.6 695.0,1870.7 696.1,1895.3 697.6,1872.3 698.6,1898.7 699.6,1869.6 700.8,1900.8 701.8,1864.8 702.7,1905.9 704.0,1860.1 704.9,1905.2 705.7,1859.9 706.8,1909.3 708.4,1861.9 709.1,1904.4 710.4,1863.6 711.5,1903.0 712.9,1866.0 714.4,1902.1 716.0,1864.5 717.5,1902.4 718.2,1867.1 719.3,1901.7 720.5,1863.5 721.8,1902.6 723.2,1862.3 724.7,1903.9 726.2,1862.9 727.4,1908.3 728.6,1859.3 729.8,1908.4 730.7,1860.5 732.2,1907.3 733.3,1864.2 734.5,1903.3 735.7,1860.2 737.0,1908.7 738.5,1859.2 740.0,1911.2 741.0,1856.7 742.5,1916.3 743.4,1852.5 744.5,1920.6 745.3,1845.9 746.8,1920.8 748.4,1852.0 749.3,1916.6 750.1,1852.3 751.0,1913.5 751.7,1855.7 753.3,1905.8 754.6,1865.9 755.9,1899.7 756.9,1870.4 758.4,1896.3 759.9,1871.0 760.9,1894.8 761.6,1873.6 762.9,1894.5 763.9,1872.2 765.4,1898.2 766.7,1863.9 767.6,1905.7 769.0,1861.8 770.0,1909.3 770.9,1856.9 772.3,1908.3 773.9,1860.4 775.4,1905.2 776.7,1865.2 777.7,1899.1 778.9,1870.3 780.0,1892.0 780.7,1873.3 781.5,1893.3 783.0,1871.2 784.0,1892.7 784.9,1872.4 785.9,1893.0 787.0,1868.9 788.2,1900.0 789.5,1865.7 790.9,1901.3 791.9,1860.0 792.9,1905.3 794.0,1863.2 795.1,1903.5 796.0,1863.4 797.3,1899.1 798.4,1863.8 799.2,1897.0 800.0,1866.7 800.9,1894.3 802.1,1870.3 803.1,1894.0 804.1,1868.7 804.8,1894.9 805.9,1863.8 807.1,1898.5 808.3,1863.5 809.1,1900.5 810.2,1859.3 811.3,1901.0 812.7,1864.0 814.2,1902.5 815.3,1861.5 816.6,1900.8 817.9,1863.2 818.9,1901.1 820.1,1862.6 821.6,1898.5 822.5,1864.8 823.6,1901.1 824.8,1862.0 826.3,1900.9 827.4,1861.0 828.9,1898.5 829.7,1866.2 831.3,1893.6 832.6,1870.9 833.8,1893.5 834.5,1867.6 835.4,1896.8 836.4,1861.4 837.3,1902.2 838.4,1856.3 839.7,1908.8 840.4,1848.1 841.5,1915.8 843.0,1845.9 843.9,1917.3 845.5,1843.9 846.6,1917.1 847.5,1850.3 848.3,1910.1 849.4,1855.6 850.6,1902.4 851.9,1864.6 853.0,1895.7 854.6,1869.3 855.8,1892.6 856.9,1868.5 857.7,1891.9 858.5,1867.4 859.9,1893.4 861.2,1870.3 862.4,1892.0 863.5,1868.1 864.3,1898.0 865.1,1862.2 866.6,1903.7 867.9,1857.3 869.0,1906.8 870.3,1848.5 871.6,1912.6 872.7,1848.2 873.6,1911.1 874.5,1849.9 875.8,1912.7 877.2,1853.0 878.1,1909.1 879.1,1853.6 880.4,1908.7 882.0,1856.0 883.1,1907.7 884.1,1853.4 885.4,1906.1 886.6,1855.2 888.0,1906.2 888.8,1856.8 890.0,1901.7 891.4,1861.5 892.5,1902.7 894.1,1857.0 895.3,1906.3 896.3,1848.4 897.2,1912.7 898.7,1848.8 899.9,1908.6 900.9,1853.4 902.1,1903.5 903.3,1860.8 904.3,1899.4 905.2,1862.8 906.4,1899.0 907.2,1862.0 907.9,1901.5 909.3,1862.2 910.8,1900.8 912.1,1859.6 913.4,1906.1 914.2,1855.9 915.6,1906.1 916.3,1857.4 917.5,1901.6 918.6,1863.9 919.8,1899.7 920.9,1863.6 922.3,1899.3 923.1,1863.5 924.3,1898.2 925.4,1863.8 926.8,1898.6 928.2,1864.1 929.7,1897.5 930.6,1862.6 931.5,1898.2 932.6,1866.8 933.8,1896.9 934.9,1869.2 935.9,1891.1 936.9,1871.9 938.5,1894.8 939.3,1866.5 940.0,1899.1 941.3,1860.4 942.2,1904.1 943.1,1859.0 943.9,1906.0 944.6,1858.4 945.9,1907.6 947.2,1860.3 948.0,1906.0 948.9,1858.6 950.4,1904.2 951.2,1859.3 952.3,1905.3 953.2,1858.8 954.3,1902.4 955.5,1859.1 956.2,1907.5 957.6,1854.7 959.0,1910.7 959.7,1857.3 960.8,1911.5 962.1,1855.4 963.6,1909.6 965.0,1856.8 966.4,1910.7 967.9,1856.4 969.3,1912.6 970.1,1851.4 970.8,1910.1 972.1,1856.9 973.4,1907.7 974.2,1856.9 975.4,1903.8 976.2,1865.0 976.9,1900.3 978.3,1868.2 979.9,1893.9 981.3,1870.6 982.1,1900.6 983.2,1866.1 984.5,1902.6 986.0,1862.0 987.4,1906.8 988.5,1856.7 989.2,1913.4 990.5,1852.0 991.2,1913.6 992.0,1854.7 992.9,1907.3 993.8,1859.4 994.5,1904.4 995.6,1864.9 996.4,1901.6 997.6,1862.9 998.5,1910.8 999.3,1854.7 1000.6,1912.8 1001.4,1851.9 1002.9,1916.9 1004.1,1853.0 1005.2,1910.4 1006.0,1856.2 1007.4,1905.4 1008.2,1860.1 1009.7,1907.6 1011.3,1861.2 1012.4,1904.9 1013.3,1860.6 1014.4,1908.1 1015.5,1857.9 1016.5,1911.7 1018.1,1855.5 1019.7,1916.2 1021.2,1854.6 1022.6,1912.9 1023.3,1852.8 1024.8,1910.3 1026.4,1857.3 1027.5,1911.7 1028.8,1860.5 1029.9,1908.8 1030.7,1860.4 1031.5,1905.9 1033.1,1861.6 1034.5,1904.4 1035.4,1865.0 1036.2,1900.6 1037.6,1873.7 1038.9,1895.1 1040.4,1870.2 1041.1,1906.9 1042.4,1860.4 1043.5,1911.1 1044.4,1852.4 1045.9,1919.9 1047.1,1849.2 1048.1,1919.5 1049.2,1851.6 1050.1,1915.6 1051.7,1855.1 1052.6,1917.8 1054.2,1851.3 1055.8,1914.6 1057.4,1852.4 1058.2,1914.7 1059.4,1860.9 1060.4,1911.9 1061.4,1863.1 1062.8,1907.6 1063.6,1863.7 1064.3,1908.7 1065.8,1859.9 1067.3,1905.6 1068.4,1863.4 1070.0,1903.4 1071.6,1867.8 1072.6,1901.7 1073.8,1866.6 1075.2,1901.7 1076.5,1866.0 1077.5,1904.5 1078.4,1866.9 1079.1,1905.5 1080.1,1865.0 1081.5,1902.1 1083.1,1872.0 1084.0,1896.5 1085.0,1876.6 1085.8,1896.3 1086.5,1872.3 1087.7,1897.8 1088.9,1871.6 1090.4,1899.4 1091.8,1870.2 1092.6,1898.7 1093.5,1868.9 1094.8,1903.9 1096.2,1866.9 1097.3,1904.9 1098.6,1865.4 1099.4,1907.1 1100.8,1863.0 1101.7,1909.8 1102.9,1858.5 1103.9,1910.2 1105.3,1863.1 1106.4,1910.8 1107.2,1860.6 1107.9,1906.2 1109.1,1864.1 1109.9,1908.8 1111.0,1866.5 1112.0,1904.9 1112.7,1866.4 1113.7,1900.7 1114.9,1870.3 1116.4,1902.8 1117.6,1870.5 1118.6,1900.2 1119.6,1872.0 1120.7,1897.2 1122.0,1872.1 1123.4,1899.2 1124.3,1870.8 1125.3,1902.5 1126.5,1860.7 1127.2,1909.5 1128.5,1858.8 1129.7,1914.2 1130.5,1859.7 1131.6,1913.2 1132.7,1860.6 1133.8,1906.9 1134.6,1866.7 1136.0,1903.7 1137.4,1864.2 1138.9,1908.0 1140.2,1864.8 1141.7,1908.3 1142.8,1866.2 1144.2,1903.5 1145.5,1869.6 1146.6,1899.6 1147.4,1872.3 1148.4,1895.1 1149.4,1874.2 1150.5,1896.9 1151.9,1872.6 1152.8,1896.5 1154.3,1872.6 1155.8,1896.3 1157.0,1874.0 1158.0,1895.0 1158.9,1874.2 1160.0,1897.7 1160.7,1870.3 1161.4,1899.8 1162.2,1869.8 1163.2,1902.0 1164.3,1867.5 1165.4,1903.8 1166.7,1868.1 1167.4,1901.2 1168.7,1870.9 1169.9,1895.5 1171.1,1871.7 1171.9,1899.8 1172.9,1866.6 1173.7,1908.8 1174.6,1861.8 1175.5,1907.8 1176.8,1856.4 1178.0,1908.3 1178.7,1857.9 1180.1,1906.2 1180.8,1860.8 1182.2,1902.4 1183.4,1865.3 1184.7,1902.8 1185.5,1866.5 1186.7,1899.5 1188.1,1867.4 1189.0,1901.6 1190.0,1869.6 1191.4,1898.5 1192.5,1869.7 1193.2,1897.9 1194.1,1871.5 1195.4,1896.8 1196.9,1871.8 1198.0,1897.3 1199.3,1870.0 1200.5,1900.4 1201.5,1866.5 1202.5,1899.6 1203.3,1868.1 1204.7,1897.9 1205.7,1873.7 1206.5,1896.3 1207.4,1867.3 1208.4,1903.0 1209.4,1864.0 1210.8,1906.7 1211.6,1860.5 1212.6,1909.2 1214.1,1860.8 1215.4,1906.7 1216.1,1857.4 1216.9,1907.1 1218.5,1866.6 1219.3,1901.6 1220.3,1870.6 1221.5,1896.2 1222.4,1870.3 1223.5,1902.5 1225.0,1861.9 1226.1,1908.9 1226.9,1856.3 1227.8,1912.6 1229.0,1857.4 1229.9,1909.9 1231.2,1856.4 1232.6,1912.2 1234.1,1858.3 1235.6,1910.1 1237.2,1857.8 1238.3,1913.2 1239.5,1857.9 1241.0,1908.7 1242.4,1860.7 1243.4,1906.9 1244.9,1863.8 1246.3,1906.5 1247.4,1864.4 1248.9,1906.0 1250.1,1862.0 1251.7,1905.0 1253.2,1860.8 1254.6,1906.1 1255.9,1865.1 1256.9,1903.5 1258.0,1868.2 1259.1,1895.9 1260.0,1872.1 1260.8,1905.6 1262.2,1861.3 1263.8,1917.7 1264.8,1848.1 1266.2,1915.1 1267.4,1852.1 1268.9,1915.2 1270.3,1854.3 1271.2,1911.6 1272.4,1852.7 1273.8,1918.6 1274.5,1847.7 1275.5,1921.0 1277.1,1852.9 1278.0,1917.5 1278.9,1856.0 1279.7,1914.6 1281.3,1856.7 1282.5,1913.6 1283.4,1859.1 1284.9,1910.1 1285.7,1862.6 1286.5,1905.9 1287.7,1868.8 1289.1,1900.2 1290.3,1874.6 1291.2,1897.6 1291.9,1869.6 1292.7,1904.6 1293.5,1865.3 1294.8,1905.5 1296.0,1865.7 1297.2,1904.7 1298.3,1869.5 1299.9,1899.8 1300.9,1874.2 1302.0,1897.2 1303.5,1870.4 1304.2,1906.8 1305.7,1858.4 1306.6,1912.5 1307.6,1856.1 1308.5,1915.3 1309.6,1858.8 1310.7,1912.9 1311.6,1858.7 1313.0,1906.9 1313.9,1865.2 1314.8,1902.4 1316.1,1872.3 1317.5,1902.3 1318.5,1870.5 1319.2,1902.8 1320.0,1870.2 1321.2,1901.5 1322.8,1872.9 1323.5,1899.0 1324.4,1872.8 1325.8,1898.0 1327.2,1877.0 1328.8,1896.4 1329.7,1875.8 1330.8,1900.9 1332.2,1870.4 1333.6,1903.8 1335.1,1868.3 1336.1,1906.4 1337.6,1865.1 1339.0,1909.7 1340.3,1863.2 1341.4,1909.9 1342.9,1864.2 1344.1,1909.6 1345.3,1863.0 1346.8,1910.8 1348.0,1865.2 1349.0,1906.9 1350.0,1864.4 1350.9,1909.6 1352.5,1864.3 1353.8,1908.7 1355.1,1865.9 1356.1,1910.1 1357.1,1865.6 1358.2,1913.6 1359.3,1865.0 1360.4,1908.0 1362.0,1868.8 1362.7,1908.3 1364.0,1869.9 1365.2,1902.3 1366.4,1872.3 1367.7,1903.2 1369.3,1870.6 1370.3,1905.0 1371.8,1869.7 1373.3,1904.0 1374.8,1874.4 1375.9,1900.6 1377.3,1877.9 1378.1,1897.9 1378.9,1877.4 1380.1,1899.4 1381.6,1876.9 1382.6,1898.3 1383.7,1879.7 1385.2,1900.9 1386.6,1873.6 1387.6,1903.9 1389.1,1866.7 1390.1,1913.1 1391.3,1861.6 1392.8,1916.6 1394.3,1861.6 1395.3,1919.8 1396.4,1856.8 1397.2,1919.6 1398.2,1856.3 1399.3,1919.0 1400.5,1857.9 1402.0,1919.6 1403.6,1857.3 1405.1,1923.6 1405.9,1858.2 1406.8,1918.1 1407.7,1857.3 1408.6,1916.9 1409.7,1859.1 1410.5,1914.6 1411.7,1865.0 1412.7,1910.1 1413.9,1868.1 1415.3,1911.4 1416.6,1866.8 1417.7,1909.3 1418.9,1864.2 1420.3,1918.4 1421.5,1860.7 1423.1,1918.5 1424.0,1854.1 1425.6,1916.2 1426.9,1861.3 1427.7,1913.3 1428.5,1868.4 1429.6,1904.9 1431.0,1874.9 1432.5,1899.4 1433.7,1872.8 1435.1,1903.9 1435.9,1868.8 1437.3,1908.2 1438.3,1867.5 1439.5,1907.8 1440.4,1864.1 1441.7,1909.6 1442.9,1864.1 1444.0,1911.2 1445.6,1867.6 1446.8,1907.3 1448.0,1871.0 1449.2,1900.6 1450.6,1875.0 1451.5,1896.9 1452.8,1876.3 1453.9,1902.7 1455.4,1869.0 1457.0,1908.0 1457.9,1866.3 1458.8,1908.6 1460.3,1864.9 1461.2,1907.8 1462.0,1866.6 1463.3,1904.4 1464.6,1871.1 1465.6,1898.3 1466.6,1874.8 1468.1,1901.4 1468.9,1868.0 1469.8,1905.1 1470.8,1864.8 1472.0,1907.7 1473.5,1865.0 1474.3,1906.2 1475.8,1866.7 1476.9,1905.1 1478.2,1867.3 1479.0,1902.8 1480.0,1865.8 1481.6,1905.7 1482.8,1860.5 1483.8,1909.1 1484.7,1854.8 1485.6,1913.7 1487.0,1853.0 1488.3,1916.2 1489.4,1847.2 1490.9,1921.0 1492.3,1853.0 1493.6,1916.4 1494.5,1856.2 1495.3,1906.8 1496.2,1860.8 1497.6,1904.5 1498.4,1863.6 1499.5,1900.5 1500.9,1869.9 1502.2,1894.8 1503.2,1868.8 1504.6,1898.1 1505.9,1869.1 1506.8,1897.2 1508.0,1868.4 1509.2,1897.0 1510.5,1866.1 1511.7,1897.8 1512.7,1863.4 1513.8,1900.0 1514.8,1863.1 1515.7,1902.0 1516.6,1861.0 1517.5,1906.1 1518.9,1855.2 1520.3,1907.0 1521.2,1852.5 1522.6,1913.3 1524.1,1850.7 1525.2,1909.6 1526.3,1848.3 1527.6,1907.9 1529.0,1854.7 1530.5,1905.3 1531.7,1855.7 1532.6,1907.4 1533.8,1851.2 1535.0,1911.5 1536.0,1843.2 1537.2,1920.5 1538.5,1843.9 1539.8,1919.5 1541.2,1838.3 1542.6,1917.6 1543.6,1843.0 1545.1,1911.1 1546.2,1853.5 1547.0,1902.2 1547.9,1856.3 1549.1,1903.6 1550.6,1857.0 1552.0,1905.8 1552.9,1850.0 1553.8,1908.8 1555.2,1851.4 1556.5,1903.7 1557.8,1853.2 1558.6,1899.1 1560.2,1859.9 1561.0,1893.0 1561.7,1862.2 1562.9,1894.2 1564.0,1860.0 1565.4,1898.4 1566.1,1856.2 1567.7,1902.3 1569.0,1854.8 1570.1,1902.2 1571.6,1858.5 1572.7,1899.3 1574.1,1859.8 1574.9,1897.5 1576.5,1855.9 1577.5,1900.1 1578.9,1857.4 1580.2,1897.5 1581.0,1860.4 1581.7,1892.3 1582.9,1865.1 1583.7,1892.4 1585.1,1865.0 1586.2,1889.8 1587.1,1859.9 1587.9,1889.1 1588.7,1859.5 1590.2,1885.3 1591.3,1857.9 1592.2,1888.5 1593.8,1846.1 1594.7,1891.8 1595.7,1837.3 1596.7,1895.8 1598.0,1828.7 1598.8,1895.3 1599.6,1823.2 1600.7,1896.7 1602.0,1824.0 1603.3,1892.4 1604.3,1819.4 1605.3,1895.8 1606.4,1812.3 1607.2,1890.0 1608.8,1812.3 1609.9,1887.7 1610.9,1813.1 1612.2,1884.3 1613.2,1810.9 1613.9,1882.0 1614.8,1805.4 1616.0,1884.8 1617.4,1802.4 1618.6,1883.1 1620.0,1797.6 1620.7,1885.3 1621.8,1791.2 1623.1,1885.0 1624.3,1800.6 1625.8,1880.9 1627.0,1813.2 1628.0,1876.6 1628.8,1824.8 1629.7,1877.2 1631.2,1819.4 1631.9,1887.8 1633.0,1804.4 1633.8,1898.0 1635.0,1796.8 1636.6,1899.6 1637.6,1799.5 1638.3,1908.0 1639.1,1797.1 1640.4,1908.2 1642.0,1808.2 1643.4,1902.8 1644.2,1811.8 1645.1,1907.5 1646.0,1817.3 1646.9,1912.7 1647.6,1819.3 1649.1,1917.8 1650.1,1815.0 1651.1,1918.6 1652.5,1825.7 1653.5,1909.0 1655.0,1841.5 1655.8,1902.8 1656.6,1848.7 1657.9,1895.6 1659.4,1856.8 1660.1,1892.1 1661.1,1864.4 1661.8,1886.1 1663.0,1866.9 1664.0,1885.6 1665.1,1866.3 1666.1,1887.7 1667.4,1863.6 1668.5,1891.8 1669.9,1861.0 1670.8,1892.6 1672.3,1855.9 1673.5,1894.5 1674.7,1855.3 1676.0,1899.2 1676.9,1852.9 1677.8,1897.7 1679.0,1849.7 1680.3,1898.6 1681.4,1853.9 1682.7,1895.7 1683.4,1860.4 1684.2,1888.7 1685.7,1865.3 1686.7,1885.4 1687.9,1866.0 1688.7,1886.1 1689.5,1867.1 1690.7,1887.4 1691.6,1864.6 1692.8,1889.1 1693.6,1864.6 1694.6,1886.3 1695.3,1868.0 1696.8,1886.8 1697.7,1863.9 1698.6,1891.0 1699.7,1860.4 1700.6,1894.0 1701.8,1860.8 1703.4,1894.1 1704.1,1862.9 1705.4,1889.9 1706.9,1865.6 1708.4,1888.1 1709.2,1864.4 1710.2,1893.4 1711.4,1857.8 1712.9,1900.8 1714.0,1850.6 1715.5,1904.9 1716.9,1847.6 1718.3,1902.4 1719.6,1849.3 1720.7,1902.2 1721.4,1851.1 1722.5,1901.9 1723.8,1856.2 1724.5,1894.0 1725.3,1862.6 1726.7,1891.6 1728.0,1863.9 1729.0,1894.4 1730.6,1861.0 1731.7,1896.9 1732.6,1859.2 1733.9,1895.7 1734.6,1864.1 1735.4,1891.2 1736.6,1863.1 1737.7,1896.6 1738.9,1854.7 1740.0,1908.5 1741.4,1845.9 1742.5,1913.3 1743.9,1846.6 1745.4,1914.6 1746.8,1847.5 1747.7,1908.2 1749.1,1853.9 1749.9,1896.9 1750.8,1862.8 1751.9,1892.9 1752.7,1867.4 1753.9,1892.1 1755.3,1863.7 1756.2,1897.8 1757.3,1858.8 1758.9,1905.0 1760.4,1857.5 1761.9,1904.6 1762.6,1854.7 1763.7,1907.2 1765.0,1856.5 1766.3,1899.2 1767.5,1865.5 1768.6,1891.4 1769.4,1868.6 1770.8,1897.6 1771.5,1859.8 1772.7,1907.3 1773.5,1855.4 1774.5,1907.1 1775.9,1856.0 1777.4,1908.1 1778.3,1852.5 1779.4,1910.5 1780.3,1843.4 1781.2,1921.0 1782.3,1835.0 1783.6,1935.3 1784.9,1827.5 1786.5,1931.2 1787.4,1833.4 1788.2,1927.4 1789.0,1847.6 1790.4,1914.7 1791.1,1852.3 1792.0,1904.4 1793.5,1863.7 1794.3,1901.7 1795.8,1865.4 1797.1,1900.0 1798.7,1870.2 1800.1,1896.0 1801.7,1872.7 1803.2,1895.7 1804.1,1868.0 1805.3,1898.2 1806.3,1866.2 1807.7,1900.1 1809.2,1867.2 1810.4,1896.0 1811.7,1872.2 1812.8,1896.5 1813.6,1867.5 1814.6,1901.6 1815.5,1864.1 1816.4,1905.3 1817.8,1862.0 1818.9,1903.1 1820.4,1864.7 1821.9,1903.9 1822.8,1866.1 1824.4,1903.6 1825.3,1861.2 1826.1,1906.1 1827.5,1864.5 1829.0,1904.8 1830.1,1863.2 1831.4,1906.8 1832.3,1862.8 1833.3,1903.0 1834.9,1866.9 1836.1,1903.5 1837.3,1867.5 1838.1,1899.9 1839.7,1873.7 1840.8,1895.8 1842.2,1870.2 1842.9,1900.0 1844.3,1864.7 1845.1,1905.6 1846.2,1862.4 1847.0,1906.3 1847.9,1861.8 1849.5,1907.0 1850.6,1864.6 1851.7,1904.9 1852.9,1867.2 1854.2,1903.3 1855.4,1870.0 1856.3,1900.7 1857.5,1867.7 1858.9,1905.6 1860.4,1862.2 1861.3,1910.1 1862.9,1862.6 1864.4,1910.5 1865.6,1854.7 1866.7,1913.6 1867.5,1858.2 1869.0,1914.1 1870.5,1857.1 1871.9,1913.7 1873.0,1857.3 1874.4,1912.6 1875.7,1860.8 1876.8,1909.4 1878.0,1867.9 1879.2,1899.9" fill="none" stroke="#7E2F8E" stroke-width="3.4" stroke-linecap="round" stroke-dasharray="14.5 17.1" stroke-linejoin="round"/>
<path d="M186.7,1849.4L189.9,1919.5 192.6,1845.4 196.0,1921.7 199.2,1848.8 202.4,1915.2 205.7,1850.2 209.0,1909.1 211.5,1854.0 214.3,1908.9 217.1,1854.0 220.7,1911.4 223.4,1854.3 226.8,1912.0 229.1,1855.2 232.4,1912.8 235.7,1855.1 238.5,1909.7 242.0,1852.6 245.3,1907.3 247.9,1859.2 250.9,1910.1 253.1,1856.7 256.2,1909.9 259.7,1854.2 262.6,1915.9 266.2,1851.5 268.9,1913.4 271.4,1856.1 275.1,1909.7 277.3,1851.3 280.7,1918.8 283.4,1845.6 286.8,1921.4 290.6,1837.9 293.0,1925.5 295.7,1839.7 298.6,1920.8 301.7,1849.0 304.4,1916.0 306.9,1851.9 309.4,1910.5 312.9,1858.9 316.2,1904.3 318.9,1862.3 321.4,1899.0 323.7,1866.9 327.4,1899.3 331.1,1868.5 333.7,1899.1 336.9,1865.0 339.8,1901.0 342.9,1857.7 346.5,1906.6 349.2,1853.7 351.7,1921.4 354.8,1840.7 357.2,1925.6 360.1,1826.0 363.3,1933.1 366.0,1830.4 369.3,1934.8 373.0,1830.2 375.4,1933.4 377.8,1834.2 380.5,1923.5 384.1,1841.9 387.6,1917.4 389.8,1857.4 393.3,1903.5 396.2,1867.7 398.6,1899.0 400.9,1859.0 404.5,1909.9 407.3,1848.4 409.8,1916.5 412.7,1844.1 415.1,1919.3 417.8,1844.1 420.8,1908.8 424.3,1859.2 426.7,1901.2 429.0,1865.4 432.5,1908.7 436.2,1852.9 439.2,1914.1 441.8,1851.0 444.2,1916.4 447.3,1852.2 450.7,1915.1 453.1,1854.7 455.7,1914.7 459.3,1854.9 461.6,1913.3 464.5,1850.7 467.6,1918.1 471.0,1845.5 474.4,1920.1 477.0,1837.3 480.6,1925.1 483.5,1844.7 486.4,1922.0 488.8,1847.4 492.5,1921.4 494.8,1846.2 498.3,1920.4 501.8,1846.4 504.8,1923.6 508.4,1838.1 512.0,1924.7 514.9,1836.4 518.1,1929.7 520.9,1840.1 523.4,1922.7 526.4,1850.5 529.7,1912.5 533.1,1860.3 535.4,1899.2 539.0,1867.5 542.7,1898.7 545.1,1861.4 548.3,1902.6 550.8,1858.8 554.3,1911.4 557.1,1848.3 560.7,1920.4 563.2,1844.6 566.6,1922.1 570.4,1841.1 574.1,1931.6 576.4,1841.6 579.6,1927.4 581.9,1833.4 585.6,1928.3 588.8,1835.7 592.5,1933.8 595.5,1825.4 598.0,1938.8 600.5,1829.8 603.2,1925.0 605.7,1847.8 608.3,1907.7 612.1,1868.9 614.5,1902.7 616.7,1861.1 619.8,1906.9 623.5,1859.3 626.9,1908.7 629.9,1858.2 632.8,1906.4 636.4,1860.4 640.0,1903.5 643.1,1860.3 645.8,1905.5 648.6,1862.8 651.9,1899.8 654.6,1864.7 657.6,1899.5 660.9,1866.4 664.0,1900.0 666.2,1863.4 668.7,1907.3 671.8,1855.6 674.2,1910.2 677.6,1853.8 681.0,1915.6 684.8,1852.0 687.5,1910.0 690.1,1857.8 693.6,1907.7 696.7,1856.7 699.1,1906.3 702.5,1861.3 706.1,1902.0 709.4,1859.2 712.5,1912.0 715.0,1849.5 718.8,1924.4 721.9,1836.2 724.9,1928.8 728.5,1826.7 730.8,1932.2 733.3,1833.1 736.6,1932.5 740.3,1840.1 742.8,1918.6 745.3,1852.9 748.5,1908.9 751.7,1861.4 754.2,1900.3 757.2,1862.6 760.4,1907.7 762.9,1856.3 765.8,1906.9 769.4,1854.4 771.9,1909.0 774.5,1857.1 777.8,1908.1 781.2,1858.0 783.9,1906.2 787.6,1854.9 790.2,1910.2 793.9,1850.1 796.9,1913.5 800.3,1850.5 802.8,1915.9 806.2,1840.7 809.7,1923.2 812.1,1839.5 815.0,1932.4 817.3,1833.1 820.6,1931.7 823.4,1831.8 825.9,1936.7 829.0,1828.5 832.4,1930.2 834.8,1826.8 838.0,1932.2 841.5,1831.1 844.5,1925.8 846.8,1843.3 850.4,1925.2 853.8,1844.5 857.3,1918.3 860.7,1851.6 864.4,1912.2 867.0,1856.2 870.0,1912.5 872.2,1852.7 875.2,1918.6 877.5,1840.7 880.5,1918.4 884.1,1843.8 887.1,1917.3 889.4,1846.5 892.6,1919.7 895.1,1848.7 898.2,1913.9 901.7,1851.8 904.3,1905.7 908.1,1857.7 910.3,1901.6 913.3,1866.4 915.8,1898.1 919.0,1857.7 921.6,1905.9 924.0,1848.1 927.4,1918.9 929.7,1842.6 933.3,1922.4 937.0,1830.2 940.2,1933.8 943.6,1824.4 946.0,1930.6 949.4,1824.0 952.3,1925.0 955.5,1835.3 958.8,1923.3 961.9,1843.3 964.5,1914.5 967.6,1847.8 969.9,1907.2 972.8,1850.9 975.9,1905.7 979.4,1852.4 982.8,1906.8 985.4,1851.6 988.5,1910.2 991.1,1842.9 993.8,1921.7 996.8,1841.8 999.6,1923.8 1002.5,1835.5 1005.6,1925.7 1008.4,1833.6 1012.0,1918.1 1015.4,1836.5 1018.2,1913.1 1021.4,1849.7 1023.7,1906.2 1026.9,1860.1 1029.4,1893.3 1033.2,1863.4 1035.5,1892.5 1038.5,1865.4 1040.7,1892.4 1043.3,1861.5 1045.7,1901.7 1048.7,1853.4 1051.0,1907.6 1054.8,1844.8 1057.7,1912.2 1061.5,1844.6 1064.3,1909.3 1067.5,1845.5 1070.4,1905.0 1073.1,1849.9 1076.2,1904.7 1078.7,1848.2 1080.9,1906.6 1083.3,1840.1 1086.7,1921.9 1089.3,1830.9 1092.0,1929.4 1095.4,1825.4 1098.5,1931.1 1102.3,1817.7 1105.1,1935.3 1107.8,1816.3 1110.1,1937.0 1112.5,1821.7 1115.2,1929.8 1118.4,1825.8 1120.7,1921.8 1124.3,1829.7 1127.9,1922.2 1130.7,1832.9 1133.1,1911.2 1135.3,1846.1 1138.4,1901.6 1141.8,1853.8 1145.2,1894.8 1147.7,1858.6 1150.5,1896.5 1154.2,1854.8 1157.3,1902.0 1159.7,1854.2 1162.3,1892.8 1164.7,1862.2 1167.9,1895.5 1170.8,1853.2 1173.6,1909.3 1176.1,1838.7 1179.5,1911.7 1183.2,1830.5 1186.5,1920.6 1190.3,1832.0 1193.8,1920.5 1196.5,1824.8 1199.8,1920.1 1202.1,1833.8 1205.4,1922.2 1208.0,1834.5 1211.8,1916.2 1215.5,1839.4 1218.4,1911.8 1221.4,1843.3 1224.5,1918.1 1227.3,1835.6 1230.6,1924.9 1233.7,1828.1 1236.6,1931.9 1239.7,1825.3 1242.8,1937.7 1245.3,1813.6 1248.3,1931.6 1251.1,1823.3 1254.7,1933.1 1257.9,1824.9 1261.6,1924.9 1263.9,1832.2 1266.3,1913.5 1269.9,1845.2 1273.3,1900.0 1276.0,1847.7 1278.6,1904.9 1282.2,1849.3 1285.6,1901.5 1289.1,1844.7 1292.5,1904.7 1295.9,1847.5 1299.7,1900.2 1302.7,1853.2 1306.0,1893.2 1308.2,1858.7 1311.0,1894.9 1313.8,1852.7 1316.0,1903.3 1318.6,1848.4 1322.1,1902.8 1325.6,1842.9 1328.6,1906.2 1331.5,1851.3 1333.9,1897.6 1337.3,1853.9 1340.7,1891.0 1344.4,1857.4 1347.3,1891.1 1349.8,1858.8 1352.8,1893.3 1355.9,1858.4 1358.2,1895.0 1361.7,1857.0 1364.3,1898.2 1366.9,1848.8 1370.2,1902.9 1372.5,1848.9 1376.1,1904.4 1378.4,1849.4 1380.7,1898.3 1383.2,1850.7 1386.7,1901.2 1389.7,1853.2 1392.4,1900.5 1395.5,1849.9 1398.4,1901.8 1401.2,1852.1 1404.8,1899.5 1408.5,1855.5 1411.0,1894.0 1413.4,1857.1 1417.0,1896.0 1419.7,1852.1 1423.5,1900.0 1425.9,1849.5 1429.6,1904.5 1432.3,1849.1 1435.5,1903.8 1438.1,1847.5 1441.0,1903.5 1443.8,1849.2 1446.9,1900.3 1450.1,1856.1 1453.2,1894.6 1456.3,1855.7 1458.6,1900.1 1461.0,1853.3 1463.3,1903.2 1466.8,1850.0 1470.0,1902.9 1473.5,1851.8 1476.8,1900.0 1480.6,1853.5 1483.7,1898.1 1486.6,1858.8 1489.4,1890.7 1492.0,1860.7 1494.7,1893.7 1497.0,1856.9 1500.3,1900.7 1502.8,1848.4 1505.5,1904.8 1508.5,1851.1 1511.7,1903.2 1514.7,1857.0 1518.0,1896.1 1520.5,1860.5 1523.8,1898.6 1526.6,1849.8 1529.3,1907.9 1532.4,1837.1 1535.9,1913.9 1539.2,1831.8 1542.1,1926.8 1545.3,1826.4 1548.0,1921.5 1551.7,1831.2 1555.0,1929.0 1558.8,1826.0 1561.7,1923.5 1564.0,1830.6 1566.6,1920.8 1569.5,1840.5 1571.7,1911.9 1574.9,1850.9 1577.8,1903.5 1581.2,1856.9 1583.9,1900.4 1586.3,1855.0 1589.7,1900.0 1592.3,1842.0 1594.8,1899.6 1597.2,1832.4 1599.5,1903.3 1602.3,1812.4 1604.5,1906.6 1607.0,1794.2 1610.0,1909.6 1613.2,1776.1 1616.5,1906.1 1619.4,1770.4 1622.1,1908.4 1624.4,1770.9 1626.7,1905.7 1630.1,1789.1 1632.4,1903.9 1634.9,1808.6 1638.3,1905.6 1641.7,1823.3 1644.3,1903.9 1647.1,1832.4 1650.4,1906.6 1652.9,1839.4 1655.5,1917.8 1659.2,1844.0 1662.1,1918.0 1665.5,1835.4 1669.3,1925.4 1672.3,1835.3 1675.7,1928.5 1679.1,1837.7 1682.7,1925.7 1685.7,1844.5 1689.1,1917.0 1692.5,1849.1 1695.5,1918.0 1697.9,1852.3 1701.3,1917.4 1704.9,1852.3 1707.3,1917.0 1710.0,1855.0 1712.6,1912.8 1715.3,1858.3 1718.5,1909.1 1721.0,1855.5 1723.3,1906.0 1726.1,1862.4 1729.7,1903.5 1732.9,1862.7 1735.5,1910.8 1738.3,1854.7 1741.1,1917.8 1744.1,1852.6 1746.4,1919.7 1749.0,1849.6 1751.8,1920.3 1754.7,1841.1 1757.1,1925.8 1760.7,1840.8 1763.4,1923.3 1765.9,1851.4 1769.3,1912.5 1772.5,1860.3 1775.8,1902.0 1779.5,1868.0 1781.9,1903.7 1784.7,1859.1 1787.1,1915.0 1790.0,1851.3 1792.5,1922.9 1795.0,1853.2 1798.2,1922.0 1801.8,1850.0 1805.4,1918.6 1808.7,1850.8 1812.2,1917.0 1815.7,1855.2 1819.1,1914.9 1821.6,1856.7 1824.3,1910.4 1826.5,1866.9 1830.0,1904.5 1833.7,1870.2 1836.8,1904.2 1839.0,1865.6 1842.0,1908.8 1845.1,1864.5 1848.8,1911.7 1852.1,1865.5 1854.5,1909.5 1857.2,1868.8 1859.9,1901.2 1863.3,1872.8 1867.0,1903.4 1869.7,1870.8 1872.7,1903.1 1875.7,1871.5 1878.9,1902.8 1879.2,1868.1" fill="none" stroke="#7E2F8E" stroke-width="3.4" stroke-linecap="round" stroke-dasharray="14.5 17.1" stroke-linejoin="round"/>
<path d="M421.8,2206.4v-25M421.8,1289.6v25M656.8,2206.4v-25M656.8,1289.6v25M891.9,2206.4v-25M891.9,1289.6v25M1127.0,2206.4v-25M1127.0,1289.6v25M1362.0,2206.4v-25M1362.0,1289.6v25M1597.1,2206.4v-25M1597.1,1289.6v25M1832.2,2206.4v-25M1832.2,1289.6v25M186.7,2075.4h25M1879.2,2075.4h-25M186.7,1944.5h25M1879.2,1944.5h-25M186.7,1813.5h25M1879.2,1813.5h-25M186.7,1682.5h25M1879.2,1682.5h-25M186.7,1551.5h25M1879.2,1551.5h-25M186.7,1420.6h25M1879.2,1420.6h-25" stroke="#000" stroke-width="4.6" fill="none"/>
<rect x="186.7" y="1289.6" width="1692.5" height="916.8" fill="none" stroke="#000" stroke-width="4.6"/>
<text x="158.5" y="2222.9" text-anchor="end" font-size="57">0.0</text>
<text x="158.5" y="2091.9" text-anchor="end" font-size="57">0.5</text>
<text x="158.5" y="1961.0" text-anchor="end" font-size="57">1.0</text>
<text x="158.5" y="1830.0" text-anchor="end" font-size="57">1.5</text>
<text x="158.5" y="1699.0" text-anchor="end" font-size="57">2.0</text>
<text x="158.5" y="1568.0" text-anchor="end" font-size="57">2.5</text>
<text x="158.5" y="1437.1" text-anchor="end" font-size="57">3.0</text>
<text x="158.5" y="1306.1" text-anchor="end" font-size="57">3.5</text>
<text x="186.7" y="2278.4" text-anchor="middle" font-size="57">0</text>
<text x="421.8" y="2278.4" text-anchor="middle" font-size="57">500</text>
<text x="656.8" y="2278.4" text-anchor="middle" font-size="57">1000</text>
<text x="891.9" y="2278.4" text-anchor="middle" font-size="57">1500</text>
<text x="1127.0" y="2278.4" text-anchor="middle" font-size="57">2000</text>
<text x="1362.0" y="2278.4" text-anchor="middle" font-size="57">2500</text>
<text x="1597.1" y="2278.4" text-anchor="middle" font-size="57">3000</text>
<text x="1832.2" y="2278.4" text-anchor="middle" font-size="57">3500</text>
<text x="185.2" y="1278" font-size="57" textLength="83" lengthAdjust="spacingAndGlyphs">x10</text>
<text x="268.3" y="1255.2" font-size="38">6</text>
<text x="1033" y="2378.5" text-anchor="middle" font-size="68.6">Time (s)</text>
<text transform="translate(46.8,1747.8) rotate(-90)" text-anchor="middle" font-size="68.6">Mooring tension - T<tspan dy="18" font-size="47">5</tspan><tspan dy="-18"> (N)</tspan></text>
<rect x="1280" y="1336.5" width="552.8" height="149.2" fill="#fff" stroke="#000" stroke-width="1.8"/>
<path d="M1287.5,1376.7H1412" stroke="#0072BD" stroke-width="2.9" stroke-linecap="round" stroke-dasharray="2 5.05" fill="none"/>
<path d="M1563.5,1376.7H1690" stroke="#D95319" stroke-width="3" stroke-linecap="round" fill="none"/>
<path d="M1288.3,1447.2H1415" stroke="#EDB120" stroke-width="2.8" stroke-linecap="round" stroke-dasharray="17.3 9.3 3.7 9.3" fill="none"/>
<path d="M1564,1447.2H1690" stroke="#7E2F8E" stroke-width="3" stroke-linecap="round" stroke-dasharray="14.5 17.1" fill="none"/>
<text x="1430" y="1395.7" font-size="57" textLength="118.6" lengthAdjust="spacingAndGlyphs">TW1</text>
<text x="1705" y="1395.7" font-size="57" textLength="120.2" lengthAdjust="spacingAndGlyphs">TW2</text>
<text x="1430" y="1466.2" font-size="57" textLength="119.3" lengthAdjust="spacingAndGlyphs">TW3</text>
<text x="1705" y="1466.2" font-size="57" textLength="119.2" lengthAdjust="spacingAndGlyphs">TW4</text>
<text x="436.2" y="2481" font-size="68.6" xml:space="preserve" textLength="1157.1" lengthAdjust="spacingAndGlyphs">(B) Time series of mooring tension on T</text>
<text x="1594" y="2499.0" font-size="47">5</text>
</svg>
</body></html>
